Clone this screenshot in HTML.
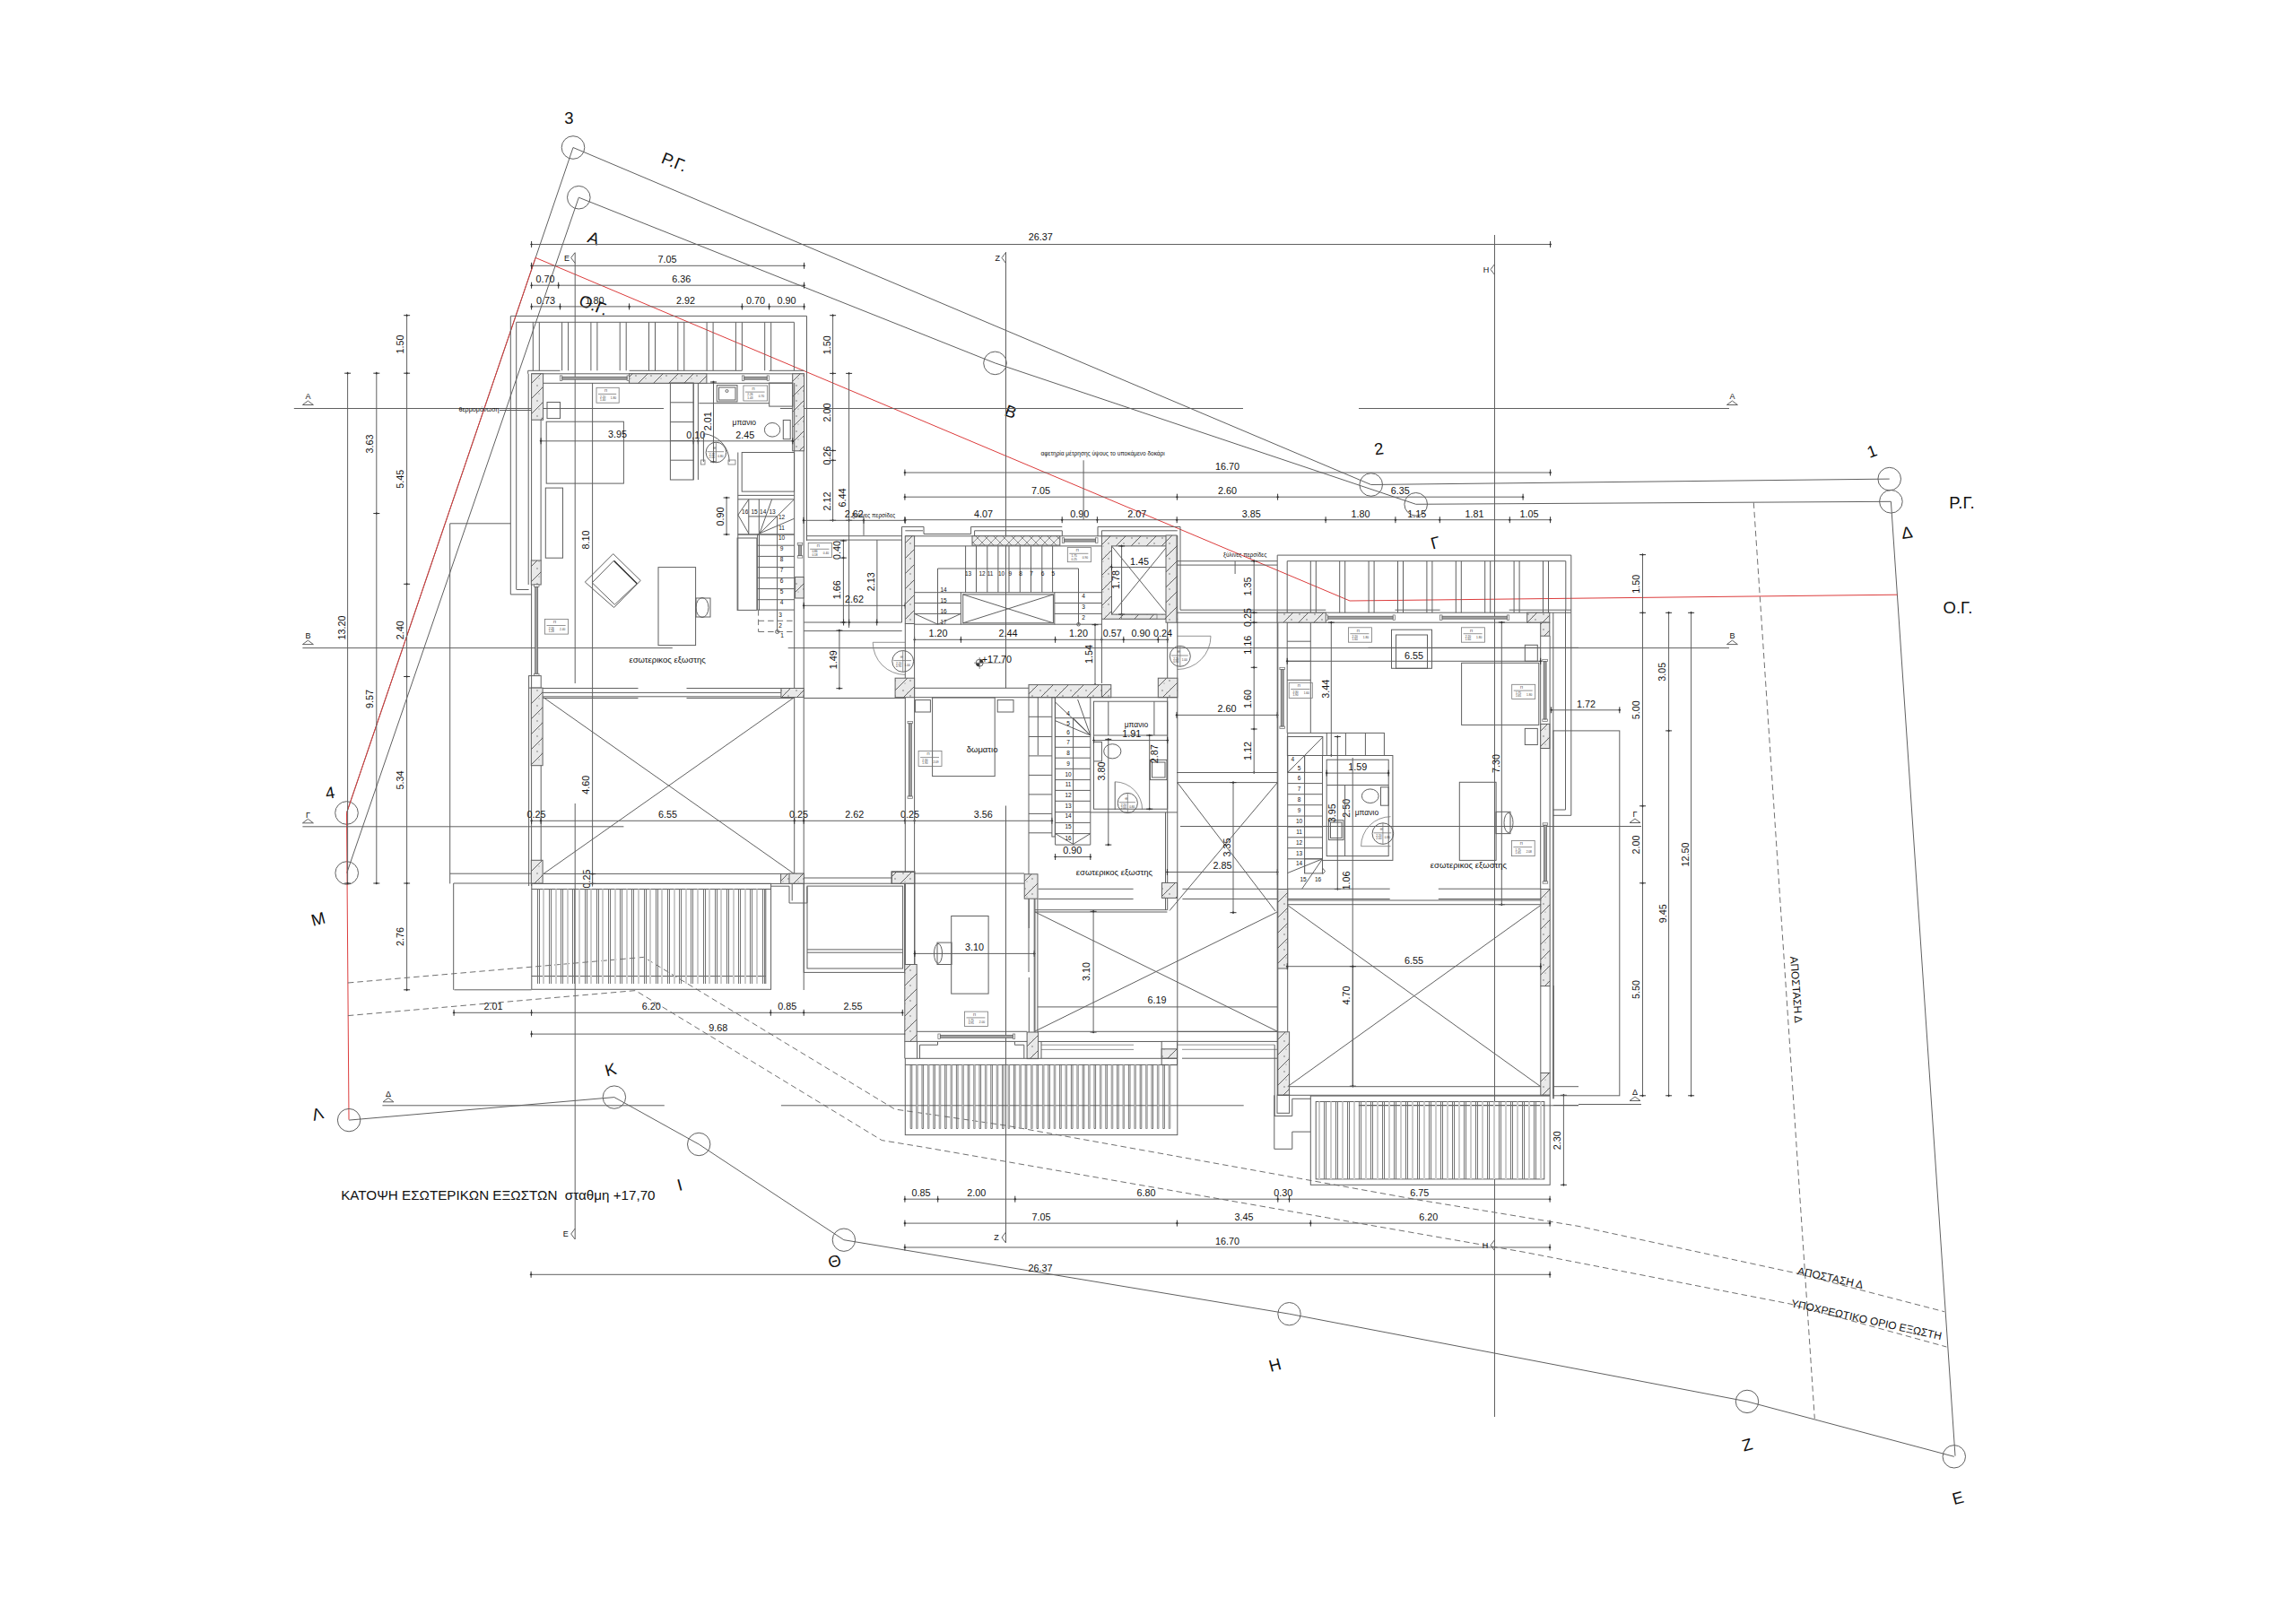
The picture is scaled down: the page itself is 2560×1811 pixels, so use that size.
<!DOCTYPE html>
<html><head><meta charset="utf-8"><style>
html,body{margin:0;padding:0;background:#fff;overflow:hidden;}
svg{display:block;}
line,polyline,polygon,rect,circle,ellipse,path{stroke:#606060;stroke-width:1;fill:none;}
.tk{stroke:#333;stroke-width:1;}
.tkf{fill:#333;stroke:none;}
.red{stroke:#dc3c3c;}
.dash{stroke-dasharray:6.5 4;stroke:#707070;}
.hw{fill:url(#hp);}
.xw{fill:url(#xp);}
.thin{stroke:#777;stroke-width:0.8;}
.grill{fill:none;}
.wc{stroke:#666;stroke-width:0.7;fill:#fff;}
.wb{stroke:#555;stroke-width:0.7;fill:#a0a0a0;}
.ts{fill:#333;}
.gb{stroke:#cdcdcd;stroke-width:2;}
.gl{stroke:#747474;stroke-width:1;}
.sl{stroke:#555;stroke-width:0.8;fill:none;}
.sl2{stroke:#888;stroke-width:0.8;fill:#cfcfcf;}
.thick{stroke:#333;stroke-width:1.4;}
.fillw{fill:#fff;}
text{font-family:"Liberation Sans",sans-serif;fill:#111;stroke:none;}
</style></head><body>
<svg width="2560" height="1811" viewBox="0 0 2560 1811">
<defs>
<pattern id="hp" patternUnits="userSpaceOnUse" width="17" height="17">
<rect width="17" height="17" style="fill:#e9e9e9;stroke:none"/>
<path d="M-1,18 L18,-1" style="stroke:#555;stroke-width:0.9;fill:none"/>
<circle cx="4" cy="5" r="0.65" style="fill:#555;stroke:none"/><circle cx="12" cy="11" r="0.65" style="fill:#555;stroke:none"/><circle cx="6" cy="14" r="0.55" style="fill:#777;stroke:none"/><circle cx="13" cy="3" r="0.5" style="fill:#888;stroke:none"/><circle cx="9" cy="7" r="0.5" style="fill:#888;stroke:none"/>
</pattern>
<pattern id="xp" patternUnits="userSpaceOnUse" width="10" height="10">
<rect width="10" height="10" style="fill:#eee;stroke:none"/>
<path d="M0,10 L10,0 M0,0 L10,10" style="stroke:#666;stroke-width:0.7;fill:none"/>
</pattern>


</defs>
<circle cx="639" cy="164.5" r="12.8"/>
<circle cx="645.3" cy="220.2" r="12.8"/>
<circle cx="1109.5" cy="404.9" r="12.8"/>
<circle cx="1528.7" cy="540.5" r="12.8"/>
<circle cx="1578.7" cy="562.3" r="12.8"/>
<circle cx="2106.7" cy="534.1" r="12.8"/>
<circle cx="2108.4" cy="559.3" r="12.8"/>
<circle cx="386.5" cy="906.5" r="12.8"/>
<circle cx="386.7" cy="973.5" r="12.8"/>
<line x1="639" y1="164.5" x2="1528.7" y2="540.5"/>
<line x1="645.3" y1="220.2" x2="1109.5" y2="404.9"/>
<line x1="1109.5" y1="404.9" x2="1578.7" y2="562.3"/>
<line x1="1528.7" y1="540.5" x2="2106.7" y2="534.1"/>
<line x1="1578.7" y1="562.3" x2="2108.4" y2="559.3"/>
<line x1="639" y1="164.5" x2="386.5" y2="906.5"/>
<line x1="645.3" y1="220.2" x2="386.7" y2="973.5"/>
<line x1="2108.4" y1="559.3" x2="2180" y2="1623.6"/>
<path d="M597.1,287.4 L1505,670 L2115.4,663.2" class="red"/>
<path d="M597.1,287.4 L386.5,906.5 L389,1248.7" class="red"/>
<text x="634.5" y="137.6" font-size="18.5" text-anchor="middle" class="t">3</text>
<text x="752" y="187.1" font-size="18.5" text-anchor="middle" transform="rotate(22 752 180.5)" class="t">Ρ.Γ.</text>
<text x="2087" y="509.6" font-size="18.5" text-anchor="middle" transform="rotate(-20 2087 503)" class="t">1</text>
<text x="1537.4" y="506.8" font-size="18.5" text-anchor="middle" transform="rotate(-8 1537.4 500.2)" class="t">2</text>
<text x="2187.5" y="566.6" font-size="18.5" text-anchor="middle" class="t">Ρ.Γ.</text>
<text x="2183" y="684" font-size="18.5" text-anchor="middle" class="t">Ο.Γ.</text>
<text x="2126.3" y="600.1" font-size="18.5" text-anchor="middle" transform="rotate(-8 2126.3 593.5)" class="t">Δ</text>
<text x="367.9" y="890.5" font-size="18.5" text-anchor="middle" transform="rotate(-10 367.9 883.9)" class="t">4</text>
<text x="354.8" y="1031.2" font-size="18.5" text-anchor="middle" transform="rotate(-15 354.8 1024.6)" class="t">Μ</text>
<text x="1127" y="465.5" font-size="18.5" text-anchor="middle" transform="rotate(20 1127 458.9)" class="t">Β</text>
<text x="662" y="272.1" font-size="18.5" text-anchor="middle" transform="rotate(20 662 265.5)" class="t">Α</text>
<text x="662" y="346.6" font-size="18.5" text-anchor="middle" transform="rotate(22 662 340)" class="t">Ο.Γ.</text>
<line x1="1955.3" y1="560.4" x2="2023.3" y2="1581.9" class="dash"/>
<line x1="641.2" y1="282" x2="641.2" y2="762"/>
<line x1="641.2" y1="896" x2="641.2" y2="1382"/>
<line x1="1121.5" y1="281" x2="1121.5" y2="767.3"/>
<line x1="1121.5" y1="898.5" x2="1121.5" y2="1386"/>
<line x1="1666.5" y1="262" x2="1666.5" y2="1580"/>
<text x="632" y="290.7" font-size="9" text-anchor="middle" class="t">Ε</text>
<text x="1112.3" y="290.7" font-size="9" text-anchor="middle" class="t">Ζ</text>
<text x="1657" y="303.7" font-size="9" text-anchor="middle" class="t">Η</text>
<polyline points="641.2,281.5 636.7,287.5 641.2,293.5"/>
<polyline points="1121.5,281.5 1117,287.5 1121.5,293.5"/>
<polyline points="1666.5,294.5 1662,300.5 1666.5,306.5"/>
<line x1="327.8" y1="455.5" x2="740" y2="455.5"/>
<line x1="869.9" y1="455.5" x2="1386" y2="455.5"/>
<line x1="1515" y1="455.5" x2="1928" y2="455.5"/>
<line x1="337.4" y1="722.6" x2="749.8" y2="722.6"/>
<line x1="878.7" y1="722.6" x2="1928" y2="722.6"/>
<line x1="337.4" y1="921.8" x2="695.4" y2="921.8"/>
<polygon points="337.4,451.5 343.4,447 349.4,451.5"/>
<text x="343.4" y="445.2" font-size="9" text-anchor="middle" class="t">Α</text>
<polygon points="1925.4,451.5 1931.4,447 1937.4,451.5"/>
<text x="1931.4" y="445.2" font-size="9" text-anchor="middle" class="t">Α</text>
<polygon points="337.4,718.6 343.4,714.1 349.4,718.6"/>
<text x="343.4" y="712.3" font-size="9" text-anchor="middle" class="t">Β</text>
<polygon points="1925.4,718.6 1931.4,714.1 1937.4,718.6"/>
<text x="1931.4" y="712.3" font-size="9" text-anchor="middle" class="t">Β</text>
<polygon points="337.4,917.8 343.4,913.3 349.4,917.8"/>
<text x="343.4" y="911.5" font-size="9" text-anchor="middle" class="t">Γ</text>
<line x1="592.6" y1="272.5" x2="1728.6" y2="272.5"/>
<line x1="592.6" y1="269" x2="592.6" y2="276" class="tk"/>
<path d="M591,272.5 L592.6,271.2 L594.2,272.5 L592.6,273.8Z" class="tkf"/>
<line x1="1728.6" y1="269" x2="1728.6" y2="276" class="tk"/>
<path d="M1727,272.5 L1728.6,271.2 L1730.2,272.5 L1728.6,273.8Z" class="tkf"/>
<text x="1160.2" y="267.9" font-size="10.8" text-anchor="middle" class="t">26.37</text>
<line x1="592.6" y1="296.3" x2="896.6" y2="296.3"/>
<line x1="592.6" y1="292.8" x2="592.6" y2="299.8" class="tk"/>
<path d="M591,296.3 L592.6,295 L594.2,296.3 L592.6,297.6Z" class="tkf"/>
<line x1="896.6" y1="292.8" x2="896.6" y2="299.8" class="tk"/>
<path d="M895,296.3 L896.6,295 L898.2,296.3 L896.6,297.6Z" class="tkf"/>
<text x="744" y="292.9" font-size="10.8" text-anchor="middle" class="t">7.05</text>
<line x1="592.6" y1="318.2" x2="896.6" y2="318.2"/>
<line x1="592.6" y1="314.7" x2="592.6" y2="321.7" class="tk"/>
<path d="M591,318.2 L592.6,316.9 L594.2,318.2 L592.6,319.5Z" class="tkf"/>
<line x1="622.7" y1="314.7" x2="622.7" y2="321.7" class="tk"/>
<path d="M621.1,318.2 L622.7,316.9 L624.3,318.2 L622.7,319.5Z" class="tkf"/>
<line x1="896.6" y1="314.7" x2="896.6" y2="321.7" class="tk"/>
<path d="M895,318.2 L896.6,316.9 L898.2,318.2 L896.6,319.5Z" class="tkf"/>
<text x="608" y="314.9" font-size="10.8" text-anchor="middle" class="t">0.70</text>
<text x="759.7" y="314.9" font-size="10.8" text-anchor="middle" class="t">6.36</text>
<line x1="592.6" y1="341.9" x2="896.6" y2="341.9"/>
<line x1="592.6" y1="338.4" x2="592.6" y2="345.4" class="tk"/>
<path d="M591,341.9 L592.6,340.6 L594.2,341.9 L592.6,343.2Z" class="tkf"/>
<line x1="624.5" y1="338.4" x2="624.5" y2="345.4" class="tk"/>
<path d="M622.9,341.9 L624.5,340.6 L626.1,341.9 L624.5,343.2Z" class="tkf"/>
<line x1="701.6" y1="338.4" x2="701.6" y2="345.4" class="tk"/>
<path d="M700,341.9 L701.6,340.6 L703.2,341.9 L701.6,343.2Z" class="tkf"/>
<line x1="827.4" y1="338.4" x2="827.4" y2="345.4" class="tk"/>
<path d="M825.8,341.9 L827.4,340.6 L829,341.9 L827.4,343.2Z" class="tkf"/>
<line x1="857.6" y1="338.4" x2="857.6" y2="345.4" class="tk"/>
<path d="M856,341.9 L857.6,340.6 L859.2,341.9 L857.6,343.2Z" class="tkf"/>
<line x1="896.6" y1="338.4" x2="896.6" y2="345.4" class="tk"/>
<path d="M895,341.9 L896.6,340.6 L898.2,341.9 L896.6,343.2Z" class="tkf"/>
<text x="608.5" y="338.9" font-size="10.8" text-anchor="middle" class="t">0.73</text>
<text x="663" y="338.9" font-size="10.8" text-anchor="middle" class="t">1.80</text>
<text x="764.5" y="338.9" font-size="10.8" text-anchor="middle" class="t">2.92</text>
<text x="842.5" y="338.9" font-size="10.8" text-anchor="middle" class="t">0.70</text>
<text x="877" y="338.9" font-size="10.8" text-anchor="middle" class="t">0.90</text>
<line x1="1008.9" y1="527" x2="1728.6" y2="527"/>
<line x1="1008.9" y1="523.5" x2="1008.9" y2="530.5" class="tk"/>
<path d="M1007.3,527 L1008.9,525.7 L1010.5,527 L1008.9,528.3Z" class="tkf"/>
<line x1="1728.6" y1="523.5" x2="1728.6" y2="530.5" class="tk"/>
<path d="M1727,527 L1728.6,525.7 L1730.2,527 L1728.6,528.3Z" class="tkf"/>
<text x="1368.6" y="523.9" font-size="10.8" text-anchor="middle" class="t">16.70</text>
<line x1="1008.9" y1="554.2" x2="1698.1" y2="554.2"/>
<line x1="1008.9" y1="550.7" x2="1008.9" y2="557.7" class="tk"/>
<path d="M1007.3,554.2 L1008.9,552.9 L1010.5,554.2 L1008.9,555.5Z" class="tkf"/>
<line x1="1312.4" y1="550.7" x2="1312.4" y2="557.7" class="tk"/>
<path d="M1310.8,554.2 L1312.4,552.9 L1314,554.2 L1312.4,555.5Z" class="tkf"/>
<line x1="1424.6" y1="550.7" x2="1424.6" y2="557.7" class="tk"/>
<path d="M1423,554.2 L1424.6,552.9 L1426.2,554.2 L1424.6,555.5Z" class="tkf"/>
<line x1="1698.1" y1="550.7" x2="1698.1" y2="557.7" class="tk"/>
<path d="M1696.5,554.2 L1698.1,552.9 L1699.7,554.2 L1698.1,555.5Z" class="tkf"/>
<text x="1160.5" y="550.9" font-size="10.8" text-anchor="middle" class="t">7.05</text>
<text x="1368.6" y="550.9" font-size="10.8" text-anchor="middle" class="t">2.60</text>
<text x="1561.3" y="550.9" font-size="10.8" text-anchor="middle" class="t">6.35</text>
<line x1="1008.9" y1="579.7" x2="1728.6" y2="579.7"/>
<line x1="1008.9" y1="576.2" x2="1008.9" y2="583.2" class="tk"/>
<path d="M1007.3,579.7 L1008.9,578.4 L1010.5,579.7 L1008.9,581Z" class="tkf"/>
<line x1="1184.2" y1="576.2" x2="1184.2" y2="583.2" class="tk"/>
<path d="M1182.6,579.7 L1184.2,578.4 L1185.8,579.7 L1184.2,581Z" class="tkf"/>
<line x1="1223.4" y1="576.2" x2="1223.4" y2="583.2" class="tk"/>
<path d="M1221.8,579.7 L1223.4,578.4 L1225,579.7 L1223.4,581Z" class="tkf"/>
<line x1="1312.2" y1="576.2" x2="1312.2" y2="583.2" class="tk"/>
<path d="M1310.6,579.7 L1312.2,578.4 L1313.8,579.7 L1312.2,581Z" class="tkf"/>
<line x1="1478.1" y1="576.2" x2="1478.1" y2="583.2" class="tk"/>
<path d="M1476.5,579.7 L1478.1,578.4 L1479.7,579.7 L1478.1,581Z" class="tkf"/>
<line x1="1555.9" y1="576.2" x2="1555.9" y2="583.2" class="tk"/>
<path d="M1554.3,579.7 L1555.9,578.4 L1557.5,579.7 L1555.9,581Z" class="tkf"/>
<line x1="1605.3" y1="576.2" x2="1605.3" y2="583.2" class="tk"/>
<path d="M1603.7,579.7 L1605.3,578.4 L1606.9,579.7 L1605.3,581Z" class="tkf"/>
<line x1="1683.3" y1="576.2" x2="1683.3" y2="583.2" class="tk"/>
<path d="M1681.7,579.7 L1683.3,578.4 L1684.9,579.7 L1683.3,581Z" class="tkf"/>
<line x1="1728.6" y1="576.2" x2="1728.6" y2="583.2" class="tk"/>
<path d="M1727,579.7 L1728.6,578.4 L1730.2,579.7 L1728.6,581Z" class="tkf"/>
<text x="1096.5" y="576.9" font-size="10.8" text-anchor="middle" class="t">4.07</text>
<text x="1203.8" y="576.9" font-size="10.8" text-anchor="middle" class="t">0.90</text>
<text x="1267.8" y="576.9" font-size="10.8" text-anchor="middle" class="t">2.07</text>
<text x="1395.2" y="576.9" font-size="10.8" text-anchor="middle" class="t">3.85</text>
<text x="1517.1" y="576.9" font-size="10.8" text-anchor="middle" class="t">1.80</text>
<text x="1579.8" y="576.9" font-size="10.8" text-anchor="middle" class="t">1.15</text>
<text x="1644.1" y="576.9" font-size="10.8" text-anchor="middle" class="t">1.81</text>
<text x="1705.1" y="576.9" font-size="10.8" text-anchor="middle" class="t">1.05</text>
<line x1="1208.1" y1="513.3" x2="1208.1" y2="580"/>
<text x="1229.7" y="508" font-size="6.5" text-anchor="middle" class="t">αφετηρία μέτρησης ύψους το υποκάμενο δοκάρι</text>
<line x1="387.6" y1="416.2" x2="387.6" y2="985"/>
<line x1="384.1" y1="416.2" x2="391.1" y2="416.2" class="tk"/>
<path d="M387.6,414.6 L386.3,416.2 L387.6,417.8 L388.9,416.2Z" class="tkf"/>
<line x1="384.1" y1="985" x2="391.1" y2="985" class="tk"/>
<path d="M387.6,983.4 L386.3,985 L387.6,986.6 L388.9,985Z" class="tkf"/>
<text x="381" y="704" font-size="10.8" text-anchor="middle" transform="rotate(-90 381 700.1)" class="t">13.20</text>
<line x1="419.8" y1="416.2" x2="419.8" y2="985"/>
<line x1="416.3" y1="416.2" x2="423.3" y2="416.2" class="tk"/>
<path d="M419.8,414.6 L418.5,416.2 L419.8,417.8 L421.1,416.2Z" class="tkf"/>
<line x1="416.3" y1="572.5" x2="423.3" y2="572.5" class="tk"/>
<path d="M419.8,570.9 L418.5,572.5 L419.8,574.1 L421.1,572.5Z" class="tkf"/>
<line x1="416.3" y1="985" x2="423.3" y2="985" class="tk"/>
<path d="M419.8,983.4 L418.5,985 L419.8,986.6 L421.1,985Z" class="tkf"/>
<text x="412.3" y="498.9" font-size="10.8" text-anchor="middle" transform="rotate(-90 412.3 495)" class="t">3.63</text>
<text x="412.3" y="783.3" font-size="10.8" text-anchor="middle" transform="rotate(-90 412.3 779.4)" class="t">9.57</text>
<line x1="453.6" y1="351.7" x2="453.6" y2="1103.8"/>
<line x1="450.1" y1="351.7" x2="457.1" y2="351.7" class="tk"/>
<path d="M453.6,350.1 L452.3,351.7 L453.6,353.3 L454.9,351.7Z" class="tkf"/>
<line x1="450.1" y1="416.2" x2="457.1" y2="416.2" class="tk"/>
<path d="M453.6,414.6 L452.3,416.2 L453.6,417.8 L454.9,416.2Z" class="tkf"/>
<line x1="450.1" y1="651.3" x2="457.1" y2="651.3" class="tk"/>
<path d="M453.6,649.7 L452.3,651.3 L453.6,652.9 L454.9,651.3Z" class="tkf"/>
<line x1="450.1" y1="754.5" x2="457.1" y2="754.5" class="tk"/>
<path d="M453.6,752.9 L452.3,754.5 L453.6,756.1 L454.9,754.5Z" class="tkf"/>
<line x1="450.1" y1="985" x2="457.1" y2="985" class="tk"/>
<path d="M453.6,983.4 L452.3,985 L453.6,986.6 L454.9,985Z" class="tkf"/>
<line x1="450.1" y1="1103.8" x2="457.1" y2="1103.8" class="tk"/>
<path d="M453.6,1102.2 L452.3,1103.8 L453.6,1105.4 L454.9,1103.8Z" class="tkf"/>
<text x="446.3" y="387.9" font-size="10.8" text-anchor="middle" transform="rotate(-90 446.3 384)" class="t">1.50</text>
<text x="446.3" y="538.1" font-size="10.8" text-anchor="middle" transform="rotate(-90 446.3 534.2)" class="t">5.45</text>
<text x="446.3" y="706.6" font-size="10.8" text-anchor="middle" transform="rotate(-90 446.3 702.7)" class="t">2.40</text>
<text x="446.3" y="873.9" font-size="10.8" text-anchor="middle" transform="rotate(-90 446.3 870)" class="t">5.34</text>
<text x="446.3" y="1048.5" font-size="10.8" text-anchor="middle" transform="rotate(-90 446.3 1044.6)" class="t">2.76</text>
<text x="534" y="459.3" font-size="7.2" text-anchor="middle" class="t">θερμομόνωση</text>
<line x1="557" y1="457.5" x2="592.6" y2="457.5"/>
<line x1="928.6" y1="351.7" x2="928.6" y2="580.3"/>
<line x1="925.1" y1="351.7" x2="932.1" y2="351.7" class="tk"/>
<path d="M928.6,350.1 L927.3,351.7 L928.6,353.3 L929.9,351.7Z" class="tkf"/>
<line x1="925.1" y1="416.4" x2="932.1" y2="416.4" class="tk"/>
<path d="M928.6,414.8 L927.3,416.4 L928.6,418 L929.9,416.4Z" class="tkf"/>
<line x1="925.1" y1="502.4" x2="932.1" y2="502.4" class="tk"/>
<path d="M928.6,500.8 L927.3,502.4 L928.6,504 L929.9,502.4Z" class="tkf"/>
<line x1="925.1" y1="513.3" x2="932.1" y2="513.3" class="tk"/>
<path d="M928.6,511.7 L927.3,513.3 L928.6,514.9 L929.9,513.3Z" class="tkf"/>
<line x1="925.1" y1="580.3" x2="932.1" y2="580.3" class="tk"/>
<path d="M928.6,578.7 L927.3,580.3 L928.6,581.9 L929.9,580.3Z" class="tkf"/>
<text x="921.8" y="388.7" font-size="10.8" text-anchor="middle" transform="rotate(-90 921.8 384.8)" class="t">1.50</text>
<text x="921.8" y="463.9" font-size="10.8" text-anchor="middle" transform="rotate(-90 921.8 460)" class="t">2.00</text>
<text x="921.8" y="511.9" font-size="10.8" text-anchor="middle" transform="rotate(-90 921.8 508)" class="t">0.26</text>
<text x="921.8" y="562.9" font-size="10.8" text-anchor="middle" transform="rotate(-90 921.8 559)" class="t">2.12</text>
<line x1="946.6" y1="416.4" x2="946.6" y2="700"/>
<line x1="943.1" y1="416.4" x2="950.1" y2="416.4" class="tk"/>
<path d="M946.6,414.8 L945.3,416.4 L946.6,418 L947.9,416.4Z" class="tkf"/>
<line x1="943.1" y1="580.3" x2="950.1" y2="580.3" class="tk"/>
<path d="M946.6,578.7 L945.3,580.3 L946.6,581.9 L947.9,580.3Z" class="tkf"/>
<text x="939.4" y="558.9" font-size="10.8" text-anchor="middle" transform="rotate(-90 939.4 555)" class="t">6.44</text>
<circle cx="389.1" cy="1249.1" r="12.7"/>
<circle cx="684.9" cy="1223.6" r="12.7"/>
<circle cx="779.2" cy="1276" r="12.7"/>
<circle cx="940.9" cy="1382.7" r="12.7"/>
<circle cx="1437.5" cy="1465.2" r="12.7"/>
<circle cx="1948" cy="1562.9" r="12.7"/>
<circle cx="2178.8" cy="1624.3" r="12.7"/>
<polyline points="389.1,1249.1 684.9,1223.6 779.2,1276 940.9,1382.7 1437.5,1465.2 1948,1562.9 2178.8,1624.3"/>
<text x="354" y="1248.6" font-size="18.5" text-anchor="middle" transform="rotate(-15 354 1242)" class="t">Λ</text>
<text x="680.7" y="1199.1" font-size="18.5" text-anchor="middle" transform="rotate(-15 680.7 1192.5)" class="t">Κ</text>
<text x="757.7" y="1327.9" font-size="18.5" text-anchor="middle" transform="rotate(-15 757.7 1321.3)" class="t">Ι</text>
<text x="930.4" y="1412.8" font-size="18.5" text-anchor="middle" transform="rotate(-15 930.4 1406.2)" class="t">Θ</text>
<text x="1421.4" y="1528.4" font-size="18.5" text-anchor="middle" transform="rotate(-15 1421.4 1521.8)" class="t">Η</text>
<text x="1948" y="1617.6" font-size="18.5" text-anchor="middle" transform="rotate(-15 1948 1611)" class="t">Ζ</text>
<text x="2183" y="1677" font-size="18.5" text-anchor="middle" transform="rotate(-15 2183 1670.4)" class="t">Ε</text>
<text x="555.4" y="1338" font-size="15.2" text-anchor="middle" class="t">ΚΑΤΟΨΗ ΕΣΩΤΕΡΙΚΩΝ ΕΞΩΣΤΩΝ&#160;&#160;σταθμη +17,70</text>
<polyline points="387.9,1096 717.7,1067.4 997.8,1237 1030,1241.6 1121,1255 1580,1337.8 1760,1367.4 2000.5,1419.3 2168.2,1462.8" class="dash"/>
<polyline points="387.9,1132.6 708.5,1104.6 983.2,1271.6 1030,1279.3 1700,1396.4 1996.2,1454.1 2170.4,1502" class="dash"/>
<text x="2040.8" y="1429" font-size="12" text-anchor="middle" transform="rotate(12.4 2040.8 1424.7)" class="t">ΑΠΟΣΤΑΣΗ Δ</text>
<text x="2081.1" y="1475.8" font-size="12" text-anchor="middle" transform="rotate(12.4 2081.1 1471.5)" class="t">ΥΠΟΧΡΕΩΤΙΚΟ ΟΡΙΟ ΕΞΩΣΤΗ</text>
<text x="2003" y="1107.9" font-size="12" text-anchor="middle" transform="rotate(86 2003 1103.6)" class="t">ΑΠΟΣΤΑΣΗ Δ</text>
<line x1="426.4" y1="1232.8" x2="740.8" y2="1232.8"/>
<line x1="870.9" y1="1232.8" x2="1386.7" y2="1232.8"/>
<line x1="1514.7" y1="1232.8" x2="1760" y2="1232.8"/>
<polygon points="427,1228.8 433,1224.3 439,1228.8"/>
<text x="433" y="1222.5" font-size="9" text-anchor="middle" class="t">Δ</text>
<polygon points="1817,1227.5 1823,1223 1829,1227.5"/>
<text x="1823" y="1221.2" font-size="9" text-anchor="middle" class="t">Δ</text>
<line x1="1760" y1="1231.5" x2="1830" y2="1231.5"/>
<line x1="1316" y1="921.5" x2="1830" y2="921.5"/>
<polygon points="1817,917.5 1823,913 1829,917.5"/>
<text x="1823" y="911.2" font-size="9" text-anchor="middle" class="t">Γ</text>
<line x1="506.1" y1="1129.3" x2="1006.3" y2="1129.3"/>
<line x1="506.1" y1="1125.8" x2="506.1" y2="1132.8" class="tk"/>
<path d="M504.5,1129.3 L506.1,1128 L507.7,1129.3 L506.1,1130.6Z" class="tkf"/>
<line x1="592.6" y1="1125.8" x2="592.6" y2="1132.8" class="tk"/>
<path d="M591,1129.3 L592.6,1128 L594.2,1129.3 L592.6,1130.6Z" class="tkf"/>
<line x1="859.3" y1="1125.8" x2="859.3" y2="1132.8" class="tk"/>
<path d="M857.7,1129.3 L859.3,1128 L860.9,1129.3 L859.3,1130.6Z" class="tkf"/>
<line x1="896.2" y1="1125.8" x2="896.2" y2="1132.8" class="tk"/>
<path d="M894.6,1129.3 L896.2,1128 L897.8,1129.3 L896.2,1130.6Z" class="tkf"/>
<line x1="1006.3" y1="1125.8" x2="1006.3" y2="1132.8" class="tk"/>
<path d="M1004.7,1129.3 L1006.3,1128 L1007.9,1129.3 L1006.3,1130.6Z" class="tkf"/>
<text x="550" y="1126.1" font-size="10.8" text-anchor="middle" class="t">2.01</text>
<text x="726.2" y="1126.1" font-size="10.8" text-anchor="middle" class="t">6.20</text>
<text x="877.8" y="1126.1" font-size="10.8" text-anchor="middle" class="t">0.85</text>
<text x="950.9" y="1126.1" font-size="10.8" text-anchor="middle" class="t">2.55</text>
<line x1="592.6" y1="1153.1" x2="1009.4" y2="1153.1"/>
<line x1="592.6" y1="1149.6" x2="592.6" y2="1156.6" class="tk"/>
<path d="M591,1153.1 L592.6,1151.8 L594.2,1153.1 L592.6,1154.4Z" class="tkf"/>
<line x1="1009.4" y1="1149.6" x2="1009.4" y2="1156.6" class="tk"/>
<path d="M1007.8,1153.1 L1009.4,1151.8 L1011,1153.1 L1009.4,1154.4Z" class="tkf"/>
<text x="800.8" y="1149.8" font-size="10.8" text-anchor="middle" class="t">9.68</text>
<line x1="1008.9" y1="1337.2" x2="1728.1" y2="1337.2"/>
<line x1="1008.9" y1="1333.7" x2="1008.9" y2="1340.7" class="tk"/>
<path d="M1007.3,1337.2 L1008.9,1335.9 L1010.5,1337.2 L1008.9,1338.5Z" class="tkf"/>
<line x1="1045.7" y1="1333.7" x2="1045.7" y2="1340.7" class="tk"/>
<path d="M1044.1,1337.2 L1045.7,1335.9 L1047.3,1337.2 L1045.7,1338.5Z" class="tkf"/>
<line x1="1131.8" y1="1333.7" x2="1131.8" y2="1340.7" class="tk"/>
<path d="M1130.2,1337.2 L1131.8,1335.9 L1133.4,1337.2 L1131.8,1338.5Z" class="tkf"/>
<line x1="1424.8" y1="1333.7" x2="1424.8" y2="1340.7" class="tk"/>
<path d="M1423.2,1337.2 L1424.8,1335.9 L1426.4,1337.2 L1424.8,1338.5Z" class="tkf"/>
<line x1="1437.5" y1="1333.7" x2="1437.5" y2="1340.7" class="tk"/>
<path d="M1435.9,1337.2 L1437.5,1335.9 L1439.1,1337.2 L1437.5,1338.5Z" class="tkf"/>
<line x1="1728.1" y1="1333.7" x2="1728.1" y2="1340.7" class="tk"/>
<path d="M1726.5,1337.2 L1728.1,1335.9 L1729.7,1337.2 L1728.1,1338.5Z" class="tkf"/>
<text x="1027" y="1334" font-size="10.8" text-anchor="middle" class="t">0.85</text>
<text x="1088.7" y="1334" font-size="10.8" text-anchor="middle" class="t">2.00</text>
<text x="1277.9" y="1334" font-size="10.8" text-anchor="middle" class="t">6.80</text>
<text x="1430.7" y="1334" font-size="10.8" text-anchor="middle" class="t">0.30</text>
<text x="1582.8" y="1334" font-size="10.8" text-anchor="middle" class="t">6.75</text>
<line x1="1008.9" y1="1364.1" x2="1728.1" y2="1364.1"/>
<line x1="1008.9" y1="1360.6" x2="1008.9" y2="1367.6" class="tk"/>
<path d="M1007.3,1364.1 L1008.9,1362.8 L1010.5,1364.1 L1008.9,1365.4Z" class="tkf"/>
<line x1="1312.4" y1="1360.6" x2="1312.4" y2="1367.6" class="tk"/>
<path d="M1310.8,1364.1 L1312.4,1362.8 L1314,1364.1 L1312.4,1365.4Z" class="tkf"/>
<line x1="1461.3" y1="1360.6" x2="1461.3" y2="1367.6" class="tk"/>
<path d="M1459.7,1364.1 L1461.3,1362.8 L1462.9,1364.1 L1461.3,1365.4Z" class="tkf"/>
<line x1="1728.1" y1="1360.6" x2="1728.1" y2="1367.6" class="tk"/>
<path d="M1726.5,1364.1 L1728.1,1362.8 L1729.7,1364.1 L1728.1,1365.4Z" class="tkf"/>
<text x="1160.9" y="1360.9" font-size="10.8" text-anchor="middle" class="t">7.05</text>
<text x="1386.9" y="1360.9" font-size="10.8" text-anchor="middle" class="t">3.45</text>
<text x="1592.7" y="1360.9" font-size="10.8" text-anchor="middle" class="t">6.20</text>
<line x1="1008.9" y1="1391" x2="1728.1" y2="1391"/>
<line x1="1008.9" y1="1387.5" x2="1008.9" y2="1394.5" class="tk"/>
<path d="M1007.3,1391 L1008.9,1389.7 L1010.5,1391 L1008.9,1392.3Z" class="tkf"/>
<line x1="1728.1" y1="1387.5" x2="1728.1" y2="1394.5" class="tk"/>
<path d="M1726.5,1391 L1728.1,1389.7 L1729.7,1391 L1728.1,1392.3Z" class="tkf"/>
<text x="1368.5" y="1387.8" font-size="10.8" text-anchor="middle" class="t">16.70</text>
<line x1="592.1" y1="1421.3" x2="1728.1" y2="1421.3"/>
<line x1="592.1" y1="1417.8" x2="592.1" y2="1424.8" class="tk"/>
<path d="M590.5,1421.3 L592.1,1420 L593.7,1421.3 L592.1,1422.6Z" class="tkf"/>
<line x1="1728.1" y1="1417.8" x2="1728.1" y2="1424.8" class="tk"/>
<path d="M1726.5,1421.3 L1728.1,1420 L1729.7,1421.3 L1728.1,1422.6Z" class="tkf"/>
<text x="1160.1" y="1418.1" font-size="10.8" text-anchor="middle" class="t">26.37</text>
<polyline points="641.2,1370 636.7,1376 641.2,1382"/>
<text x="630.7" y="1379.2" font-size="9" text-anchor="middle" class="t">Ε</text>
<polyline points="1121.5,1374 1117,1380 1121.5,1386"/>
<text x="1111" y="1383.2" font-size="9" text-anchor="middle" class="t">Ζ</text>
<polyline points="1666.5,1382.7 1662,1388.7 1666.5,1394.7"/>
<text x="1656" y="1391.9" font-size="9" text-anchor="middle" class="t">Η</text>
<line x1="1831.5" y1="618.6" x2="1831.5" y2="1221.8"/>
<line x1="1828" y1="618.6" x2="1835" y2="618.6" class="tk"/>
<path d="M1831.5,617 L1830.2,618.6 L1831.5,620.2 L1832.8,618.6Z" class="tkf"/>
<line x1="1828" y1="683.3" x2="1835" y2="683.3" class="tk"/>
<path d="M1831.5,681.7 L1830.2,683.3 L1831.5,684.9 L1832.8,683.3Z" class="tkf"/>
<line x1="1828" y1="898.8" x2="1835" y2="898.8" class="tk"/>
<path d="M1831.5,897.2 L1830.2,898.8 L1831.5,900.4 L1832.8,898.8Z" class="tkf"/>
<line x1="1828" y1="984.8" x2="1835" y2="984.8" class="tk"/>
<path d="M1831.5,983.2 L1830.2,984.8 L1831.5,986.4 L1832.8,984.8Z" class="tkf"/>
<line x1="1828" y1="1221.8" x2="1835" y2="1221.8" class="tk"/>
<path d="M1831.5,1220.2 L1830.2,1221.8 L1831.5,1223.4 L1832.8,1221.8Z" class="tkf"/>
<text x="1824.4" y="655.1" font-size="10.8" text-anchor="middle" transform="rotate(-90 1824.4 651.2)" class="t">1.50</text>
<text x="1824.1" y="795.7" font-size="10.8" text-anchor="middle" transform="rotate(-90 1824.1 791.8)" class="t">5.00</text>
<text x="1824.1" y="945.8" font-size="10.8" text-anchor="middle" transform="rotate(-90 1824.1 941.9)" class="t">2.00</text>
<text x="1824.1" y="1107.5" font-size="10.8" text-anchor="middle" transform="rotate(-90 1824.1 1103.6)" class="t">5.50</text>
<line x1="1860.6" y1="683.3" x2="1860.6" y2="1221.8"/>
<line x1="1857.1" y1="683.3" x2="1864.1" y2="683.3" class="tk"/>
<path d="M1860.6,681.7 L1859.3,683.3 L1860.6,684.9 L1861.9,683.3Z" class="tkf"/>
<line x1="1857.1" y1="814.9" x2="1864.1" y2="814.9" class="tk"/>
<path d="M1860.6,813.3 L1859.3,814.9 L1860.6,816.5 L1861.9,814.9Z" class="tkf"/>
<line x1="1857.1" y1="1221.8" x2="1864.1" y2="1221.8" class="tk"/>
<path d="M1860.6,1220.2 L1859.3,1221.8 L1860.6,1223.4 L1861.9,1221.8Z" class="tkf"/>
<text x="1853" y="753.1" font-size="10.8" text-anchor="middle" transform="rotate(-90 1853 749.2)" class="t">3.05</text>
<text x="1853.7" y="1022.7" font-size="10.8" text-anchor="middle" transform="rotate(-90 1853.7 1018.8)" class="t">9.45</text>
<line x1="1885.6" y1="683.3" x2="1885.6" y2="1221.8"/>
<line x1="1882.1" y1="683.3" x2="1889.1" y2="683.3" class="tk"/>
<path d="M1885.6,681.7 L1884.3,683.3 L1885.6,684.9 L1886.9,683.3Z" class="tkf"/>
<line x1="1882.1" y1="1221.8" x2="1889.1" y2="1221.8" class="tk"/>
<path d="M1885.6,1220.2 L1884.3,1221.8 L1885.6,1223.4 L1886.9,1221.8Z" class="tkf"/>
<text x="1878.8" y="956.8" font-size="10.8" text-anchor="middle" transform="rotate(-90 1878.8 952.9)" class="t">12.50</text>
<line x1="1743.4" y1="1221.3" x2="1743.4" y2="1321.3"/>
<line x1="1739.9" y1="1221.3" x2="1746.9" y2="1221.3" class="tk"/>
<path d="M1743.4,1219.7 L1742.1,1221.3 L1743.4,1222.9 L1744.7,1221.3Z" class="tkf"/>
<line x1="1739.9" y1="1321.3" x2="1746.9" y2="1321.3" class="tk"/>
<path d="M1743.4,1319.7 L1742.1,1321.3 L1743.4,1322.9 L1744.7,1321.3Z" class="tkf"/>
<text x="1736.2" y="1275.6" font-size="10.8" text-anchor="middle" transform="rotate(-90 1736.2 1271.7)" class="t">2.30</text>
<rect x="1731.9" y="814.9" width="73.9" height="406.9"/>
<polyline points="1751.8,683.2 1751.8,909.3 1731.6,909.3"/>
<polyline points="1745.5,680.2 1745.5,903 1731.6,903"/>
<line x1="1729.6" y1="791.8" x2="1805.8" y2="791.8"/>
<line x1="1729.6" y1="788.3" x2="1729.6" y2="795.3" class="tk"/>
<path d="M1728,791.8 L1729.6,790.5 L1731.2,791.8 L1729.6,793.1Z" class="tkf"/>
<line x1="1805.8" y1="788.3" x2="1805.8" y2="795.3" class="tk"/>
<path d="M1804.2,791.8 L1805.8,790.5 L1807.4,791.8 L1805.8,793.1Z" class="tkf"/>
<text x="1768.6" y="789.2" font-size="10.8" text-anchor="middle" class="t">1.72</text>
<polyline points="569.3,662.9 569.3,352.4 899.5,352.4 899.5,603"/>
<polyline points="575.7,657.5 575.7,359.3 885.4,359.3 885.4,413.3"/>
<line x1="594.3" y1="359.3" x2="594.3" y2="413.3"/>
<line x1="601.3" y1="359.3" x2="601.3" y2="413.3"/>
<line x1="626.6" y1="359.3" x2="626.6" y2="413.3"/>
<line x1="633.6" y1="359.3" x2="633.6" y2="413.3"/>
<line x1="658.9" y1="359.3" x2="658.9" y2="413.3"/>
<line x1="665.9" y1="359.3" x2="665.9" y2="413.3"/>
<line x1="691.2" y1="359.3" x2="691.2" y2="413.3"/>
<line x1="698.2" y1="359.3" x2="698.2" y2="413.3"/>
<line x1="723.5" y1="359.3" x2="723.5" y2="413.3"/>
<line x1="730.5" y1="359.3" x2="730.5" y2="413.3"/>
<line x1="755.8" y1="359.3" x2="755.8" y2="413.3"/>
<line x1="762.8" y1="359.3" x2="762.8" y2="413.3"/>
<line x1="788.1" y1="359.3" x2="788.1" y2="413.3"/>
<line x1="795.1" y1="359.3" x2="795.1" y2="413.3"/>
<line x1="820.4" y1="359.3" x2="820.4" y2="413.3"/>
<line x1="827.4" y1="359.3" x2="827.4" y2="413.3"/>
<line x1="852.7" y1="359.3" x2="852.7" y2="413.3"/>
<line x1="859.7" y1="359.3" x2="859.7" y2="413.3"/>
<line x1="588.7" y1="413.3" x2="624.5" y2="413.3"/>
<line x1="701.6" y1="413.3" x2="827.4" y2="413.3"/>
<line x1="857.6" y1="413.3" x2="896.6" y2="413.3"/>
<line x1="588.7" y1="413.3" x2="588.7" y2="416.8"/>
<line x1="592.6" y1="416.8" x2="896.6" y2="416.8"/>
<line x1="605.6" y1="427.3" x2="883.7" y2="427.3"/>
<rect x="592.6" y="416.8" width="13" height="51.4" class="hw"/>
<rect x="701.6" y="416.8" width="86.3" height="10.5" class="hw"/>
<rect x="883.7" y="416.8" width="12.9" height="86" class="hw"/>
<rect x="624.4" y="418.9" width="2.4" height="5.6" class="wc"/>
<rect x="699.1" y="418.9" width="2.4" height="5.6" class="wc"/>
<rect x="626.8" y="420.2" width="72.3" height="3" class="wb"/>
<rect x="827.4" y="418.9" width="2.4" height="5.6" class="wc"/>
<rect x="855.2" y="418.9" width="2.4" height="5.6" class="wc"/>
<rect x="829.8" y="420.2" width="25.4" height="3" class="wb"/>
<line x1="589.2" y1="416.8" x2="589.2" y2="652"/>
<line x1="592.6" y1="468.2" x2="592.6" y2="988"/>
<line x1="603.1" y1="468.2" x2="603.1" y2="625.6"/>
<rect x="592.3" y="625" width="10.9" height="27" class="hw"/>
<rect x="595.4" y="652" width="5.6" height="2.4" class="wc"/>
<rect x="595.4" y="751.2" width="5.6" height="2.4" class="wc"/>
<rect x="596.7" y="654.4" width="3" height="96.8" class="wb"/>
<rect x="589.6" y="753.6" width="13.6" height="13.5"/>
<rect x="592.3" y="767.1" width="12.8" height="86.6" class="hw"/>
<line x1="589.6" y1="767.1" x2="589.6" y2="988"/>
<line x1="603.2" y1="853.7" x2="603.2" y2="959.3"/>
<rect x="592.3" y="959.3" width="12.8" height="25.7" class="hw"/>
<polyline points="569.3,583.8 501.7,583.8 501.7,985.4"/>
<line x1="501.7" y1="974.2" x2="592.3" y2="974.2"/>
<line x1="505.7" y1="985" x2="592.3" y2="985"/>
<polyline points="569.3,662.9 592.3,662.9"/>
<polyline points="576.1,657.5 589.6,657.5"/>
<line x1="505.7" y1="985" x2="505.7" y2="1103.8"/>
<line x1="506.4" y1="1103.8" x2="592.6" y2="1103.8"/>
<rect x="610" y="448.5" width="14.5" height="18.1"/>
<rect x="609.2" y="470.2" width="86.2" height="68.9"/>
<rect x="608.3" y="544.1" width="19.2" height="78.1"/>
<rect x="665" y="432.3" width="25.2" height="16.9" class="thin"/>
<text x="675.6" y="437.2" font-size="4.2" text-anchor="middle" class="ts">Π</text>
<line x1="667" y1="439.4" x2="687.2" y2="439.4" class="thin"/>
<text x="672.1" y="443.6" font-size="3.2" text-anchor="middle" class="ts">2.20</text>
<text x="672.1" y="447" font-size="3.2" text-anchor="middle" class="ts">1.40</text>
<text x="683.9" y="445.3" font-size="3.2" text-anchor="middle" class="ts">1.80</text>
<line x1="603.1" y1="491.8" x2="883.8" y2="491.8"/>
<line x1="603.1" y1="488.3" x2="603.1" y2="495.3" class="tk"/>
<path d="M601.5,491.8 L603.1,490.5 L604.7,491.8 L603.1,493.1Z" class="tkf"/>
<line x1="773.2" y1="488.3" x2="773.2" y2="495.3" class="tk"/>
<path d="M771.6,491.8 L773.2,490.5 L774.8,491.8 L773.2,493.1Z" class="tkf"/>
<line x1="778.4" y1="488.3" x2="778.4" y2="495.3" class="tk"/>
<path d="M776.8,491.8 L778.4,490.5 L780,491.8 L778.4,493.1Z" class="tkf"/>
<line x1="883.8" y1="488.3" x2="883.8" y2="495.3" class="tk"/>
<path d="M882.2,491.8 L883.8,490.5 L885.4,491.8 L883.8,493.1Z" class="tkf"/>
<text x="688.5" y="488.4" font-size="10.8" text-anchor="middle" class="t">3.95</text>
<text x="775.8" y="489.3" font-size="10.8" text-anchor="middle" class="t">0.10</text>
<text x="830.7" y="489.3" font-size="10.8" text-anchor="middle" class="t">2.45</text>
<line x1="660.6" y1="427" x2="660.6" y2="988.6"/>
<text x="652.7" y="605.9" font-size="10.8" text-anchor="middle" transform="rotate(-90 652.7 602)" class="t">8.10</text>
<text x="653.6" y="879.1" font-size="10.8" text-anchor="middle" transform="rotate(-90 653.6 875.2)" class="t">4.60</text>
<text x="653.6" y="984" font-size="10.8" text-anchor="middle" transform="rotate(-90 653.6 980.1)" class="t">0.25</text>
<polygon points="652.3,649.1 683.7,617.6 714.2,647.4 684.6,677.5"/>
<polygon points="660.2,649.8 684.6,625 710.2,650.8 685.4,674.2"/>
<line x1="684.6" y1="625.5" x2="710.2" y2="650.8" class="thick"/>
<rect x="734" y="632.6" width="41.6" height="87"/>
<rect x="776" y="667" width="16" height="21"/>
<ellipse cx="783" cy="677.5" rx="7" ry="11"/>
<rect x="607.5" y="690.5" width="26.1" height="16.6" class="thin"/>
<text x="618.5" y="695.3" font-size="4.2" text-anchor="middle" class="ts">Π</text>
<line x1="609.5" y1="697.5" x2="630.6" y2="697.5" class="thin"/>
<text x="614.8" y="701.6" font-size="3.2" text-anchor="middle" class="ts">2.26</text>
<text x="614.8" y="704.9" font-size="3.2" text-anchor="middle" class="ts">1.28</text>
<text x="627.1" y="703.3" font-size="3.2" text-anchor="middle" class="ts">2.40</text>
<rect x="747.4" y="427" width="25.8" height="108"/>
<line x1="747.4" y1="448.8" x2="773.2" y2="448.8"/>
<line x1="747.4" y1="470.6" x2="773.2" y2="470.6"/>
<line x1="747.4" y1="491.5" x2="773.2" y2="491.5"/>
<line x1="747.4" y1="513.2" x2="773.2" y2="513.2"/>
<line x1="773.2" y1="427" x2="773.2" y2="535"/>
<line x1="778.4" y1="427" x2="778.4" y2="535"/>
<rect x="799.3" y="429.6" width="22.7" height="18.3"/>
<rect x="801.5" y="432" width="18.5" height="14"/>
<circle cx="810.5" cy="436" r="1.5"/>
<rect x="828.9" y="430" width="26.7" height="17" class="thin"/>
<text x="840.1" y="434.9" font-size="4.2" text-anchor="middle" class="ts">Π</text>
<line x1="830.9" y1="437.1" x2="852.6" y2="437.1" class="thin"/>
<text x="836.4" y="441.3" font-size="3.2" text-anchor="middle" class="ts">2.26</text>
<text x="836.4" y="444.7" font-size="3.2" text-anchor="middle" class="ts">1.43</text>
<text x="848.9" y="443" font-size="3.2" text-anchor="middle" class="ts">0.70</text>
<line x1="779.3" y1="449.7" x2="857.7" y2="449.7"/>
<rect x="857.7" y="427" width="26.1" height="26.1"/>
<ellipse cx="861.1" cy="479.3" rx="8.7" ry="7.8"/>
<rect x="873.3" y="468.5" width="7.9" height="21.2"/>
<text x="829.8" y="474.1" font-size="8.5" text-anchor="middle" class="t">μπανιο</text>
<text x="788.9" y="473.6" font-size="10.8" text-anchor="middle" transform="rotate(-90 788.9 469.7)" class="t">2.01</text>
<line x1="795.5" y1="426" x2="795.5" y2="515"/>
<line x1="792" y1="426" x2="799" y2="426" class="tk"/>
<path d="M795.5,424.4 L794.2,426 L795.5,427.6 L796.8,426Z" class="tkf"/>
<line x1="792" y1="515" x2="799" y2="515" class="tk"/>
<path d="M795.5,513.4 L794.2,515 L795.5,516.6 L796.8,515Z" class="tkf"/>
<path d="M784.4,483.6 A31.4,31.4 0 0 1 813.2,515"/>
<line x1="784.4" y1="483.6" x2="784.4" y2="515"/>
<circle cx="798.4" cy="504.5" r="11.3"/>
<text x="796.9" y="500.9" font-size="4" text-anchor="middle" class="ts">Θ</text>
<line x1="788.6" y1="503.7" x2="807.2" y2="503.7" class="thin"/>
<text x="793.9" y="508.2" font-size="3.2" text-anchor="middle" class="ts">2.22</text>
<text x="793.9" y="511.2" font-size="3.2" text-anchor="middle" class="ts">2.00</text>
<text x="803.4" y="509.6" font-size="3.2" text-anchor="middle" class="ts">0.80</text>
<line x1="798.4" y1="493.2" x2="798.4" y2="515.8" class="thin"/>
<rect x="781.5" y="513" width="4.5" height="5" class="thin"/>
<rect x="812" y="513" width="8" height="5" class="thin"/>
<polyline points="822.8,504.5 822.8,680.4"/>
<rect x="827.2" y="504.5" width="58.3" height="43.6"/>
<line x1="822.8" y1="552.4" x2="885.5" y2="552.4"/>
<line x1="822.8" y1="556.8" x2="885.5" y2="556.8"/>
<line x1="822.8" y1="596" x2="885.5" y2="596"/>
<text x="830.7" y="573.3" font-size="6.5" text-anchor="middle" class="t">16</text>
<text x="841.1" y="573.3" font-size="6.5" text-anchor="middle" class="t">15</text>
<text x="850.7" y="573.3" font-size="6.5" text-anchor="middle" class="t">14</text>
<text x="861.1" y="573.3" font-size="6.5" text-anchor="middle" class="t">13</text>
<line x1="834.8" y1="556.8" x2="834.8" y2="596"/>
<line x1="846.3" y1="556.8" x2="846.3" y2="596"/>
<line x1="834.8" y1="575.9" x2="866.7" y2="575.9"/>
<polyline points="834.8,556.9 822.9,574.2 834.8,595"/>
<line x1="847" y1="594.8" x2="860.6" y2="556.9"/>
<line x1="847" y1="594.8" x2="885.5" y2="556.9"/>
<line x1="847" y1="594.8" x2="885.5" y2="578.3"/>
<line x1="822.8" y1="596" x2="846.3" y2="596"/>
<line x1="844.6" y1="596" x2="885.7" y2="596"/>
<line x1="844.6" y1="608.2" x2="885.7" y2="608.2"/>
<line x1="844.6" y1="620.4" x2="885.7" y2="620.4"/>
<line x1="844.6" y1="632.6" x2="885.7" y2="632.6"/>
<line x1="844.6" y1="644.4" x2="885.7" y2="644.4"/>
<line x1="844.6" y1="656.6" x2="885.7" y2="656.6"/>
<line x1="844.6" y1="668.7" x2="885.7" y2="668.7"/>
<line x1="844.6" y1="680.1" x2="885.7" y2="680.1"/>
<line x1="845.6" y1="692.3" x2="885.7" y2="692.3" class="dash"/>
<line x1="845.6" y1="704.5" x2="885.7" y2="704.5" class="dash"/>
<line x1="845.6" y1="680.1" x2="845.6" y2="704.5" class="dash"/>
<line x1="844.6" y1="596" x2="844.6" y2="680.4"/>
<line x1="846.5" y1="596" x2="846.5" y2="680.4"/>
<line x1="866.6" y1="576" x2="866.6" y2="704.5"/>
<rect x="822.1" y="600" width="21.8" height="80.4"/>
<text x="871.6" y="579.1" font-size="6.5" text-anchor="middle" class="t">12</text>
<text x="871.6" y="590.5" font-size="6.5" text-anchor="middle" class="t">11</text>
<text x="871.6" y="601.8" font-size="6.5" text-anchor="middle" class="t">10</text>
<text x="871.6" y="614" font-size="6.5" text-anchor="middle" class="t">9</text>
<text x="871.6" y="626.2" font-size="6.5" text-anchor="middle" class="t">8</text>
<text x="871.6" y="637.8" font-size="6.5" text-anchor="middle" class="t">7</text>
<text x="871.6" y="649.7" font-size="6.5" text-anchor="middle" class="t">6</text>
<text x="871.6" y="661.9" font-size="6.5" text-anchor="middle" class="t">5</text>
<text x="871.6" y="674.1" font-size="6.5" text-anchor="middle" class="t">4</text>
<text x="870" y="688.3" font-size="6.5" text-anchor="middle" class="t">3</text>
<text x="870" y="700.3" font-size="6.5" text-anchor="middle" class="t">2</text>
<text x="872" y="711.3" font-size="6.5" text-anchor="middle" class="t">1</text>
<circle cx="866.6" cy="704.5" r="2"/>
<line x1="810.1" y1="555" x2="810.1" y2="596"/>
<line x1="806.6" y1="555" x2="813.6" y2="555" class="tk"/>
<path d="M810.1,553.4 L808.8,555 L810.1,556.6 L811.4,555Z" class="tkf"/>
<line x1="806.6" y1="596" x2="813.6" y2="596" class="tk"/>
<path d="M810.1,594.4 L808.8,596 L810.1,597.6 L811.4,596Z" class="tkf"/>
<text x="802.8" y="579.9" font-size="10.8" text-anchor="middle" transform="rotate(-90 802.8 576)" class="t">0.90</text>
<line x1="885.7" y1="427" x2="885.7" y2="985"/>
<line x1="896.2" y1="502.8" x2="896.2" y2="1104"/>
<rect x="886.6" y="643.5" width="9.6" height="23.5" class="hw"/>
<rect x="889.2" y="605.6" width="5.6" height="2.4" class="wc"/>
<rect x="889.2" y="619.7" width="5.6" height="2.4" class="wc"/>
<rect x="890.5" y="608" width="3" height="11.7" class="wb"/>
<rect x="901.2" y="605.6" width="26.2" height="16" class="thin"/>
<text x="912.2" y="610.3" font-size="4.2" text-anchor="middle" class="ts">Π</text>
<line x1="903.2" y1="612.3" x2="924.4" y2="612.3" class="thin"/>
<text x="908.5" y="616.3" font-size="3.2" text-anchor="middle" class="ts">0.86</text>
<text x="908.5" y="619.5" font-size="3.2" text-anchor="middle" class="ts">0.18</text>
<text x="920.9" y="617.9" font-size="3.2" text-anchor="middle" class="ts">0.40</text>
<line x1="899.5" y1="597.7" x2="1005.7" y2="597.7"/>
<line x1="899.5" y1="602.1" x2="1005.7" y2="602.1"/>
<line x1="896" y1="580.3" x2="1009.2" y2="580.3"/>
<line x1="896" y1="576.8" x2="896" y2="583.8" class="tk"/>
<path d="M894.4,580.3 L896,579 L897.6,580.3 L896,581.6Z" class="tkf"/>
<line x1="963" y1="576.8" x2="963" y2="583.8" class="tk"/>
<path d="M961.4,580.3 L963,579 L964.6,580.3 L963,581.6Z" class="tkf"/>
<line x1="1009.2" y1="576.8" x2="1009.2" y2="583.8" class="tk"/>
<path d="M1007.6,580.3 L1009.2,579 L1010.8,580.3 L1009.2,581.6Z" class="tkf"/>
<line x1="963" y1="580.3" x2="963" y2="596.9"/>
<text x="952.3" y="577.1" font-size="10.8" text-anchor="middle" class="t">2.62</text>
<text x="974" y="577.3" font-size="6.5" text-anchor="middle" class="t">ξύλινες περσίδες</text>
<line x1="940.4" y1="603" x2="940.4" y2="694"/>
<line x1="936.9" y1="603" x2="943.9" y2="603" class="tk"/>
<path d="M940.4,601.4 L939.1,603 L940.4,604.6 L941.7,603Z" class="tkf"/>
<line x1="936.9" y1="622.1" x2="943.9" y2="622.1" class="tk"/>
<path d="M940.4,620.5 L939.1,622.1 L940.4,623.7 L941.7,622.1Z" class="tkf"/>
<line x1="936.9" y1="694" x2="943.9" y2="694" class="tk"/>
<path d="M940.4,692.4 L939.1,694 L940.4,695.6 L941.7,694Z" class="tkf"/>
<text x="933.4" y="617.3" font-size="10.8" text-anchor="middle" transform="rotate(-90 933.4 613.4)" class="t">0.40</text>
<text x="933.4" y="661.7" font-size="10.8" text-anchor="middle" transform="rotate(-90 933.4 657.8)" class="t">1.66</text>
<line x1="977.9" y1="602.1" x2="977.9" y2="694"/>
<text x="971.1" y="652.6" font-size="10.8" text-anchor="middle" transform="rotate(-90 971.1 648.7)" class="t">2.13</text>
<text x="952.6" y="672.2" font-size="10.8" text-anchor="middle" class="t">2.62</text>
<line x1="896.2" y1="675.3" x2="1009.2" y2="675.3"/>
<line x1="896.2" y1="671.8" x2="896.2" y2="678.8" class="tk"/>
<path d="M894.6,675.3 L896.2,674 L897.8,675.3 L896.2,676.6Z" class="tkf"/>
<line x1="1009.2" y1="671.8" x2="1009.2" y2="678.8" class="tk"/>
<path d="M1007.6,675.3 L1009.2,674 L1010.8,675.3 L1009.2,676.6Z" class="tkf"/>
<line x1="896.2" y1="694" x2="1005.7" y2="694"/>
<line x1="896.2" y1="703.6" x2="1005.7" y2="703.6"/>
<line x1="940.6" y1="690.5" x2="940.6" y2="697.5" class="tk"/>
<path d="M939,694 L940.6,692.7 L942.2,694 L940.6,695.3Z" class="tkf"/>
<line x1="946.7" y1="690.5" x2="946.7" y2="697.5" class="tk"/>
<path d="M945.1,694 L946.7,692.7 L948.3,694 L946.7,695.3Z" class="tkf"/>
<line x1="977.7" y1="690.5" x2="977.7" y2="697.5" class="tk"/>
<path d="M976.1,694 L977.7,692.7 L979.3,694 L977.7,695.3Z" class="tkf"/>
<line x1="935.9" y1="703.1" x2="935.9" y2="767.7"/>
<line x1="932.4" y1="703.1" x2="939.4" y2="703.1" class="tk"/>
<path d="M935.9,701.5 L934.6,703.1 L935.9,704.7 L937.2,703.1Z" class="tkf"/>
<line x1="932.4" y1="767.7" x2="939.4" y2="767.7" class="tk"/>
<path d="M935.9,766.1 L934.6,767.7 L935.9,769.3 L937.2,767.7Z" class="tkf"/>
<text x="929.3" y="739.7" font-size="10.8" text-anchor="middle" transform="rotate(-90 929.3 735.8)" class="t">1.49</text>
<text x="952.8" y="912.2" font-size="10.8" text-anchor="middle" class="t">2.62</text>
<line x1="605.2" y1="767.5" x2="711.5" y2="767.5"/>
<line x1="765.5" y1="767.5" x2="885.7" y2="767.5"/>
<line x1="605.2" y1="772.4" x2="885.7" y2="772.4"/>
<line x1="605.2" y1="776.8" x2="885.7" y2="776.8"/>
<line x1="605.2" y1="778.5" x2="711.5" y2="778.5"/>
<line x1="765.5" y1="778.5" x2="885.7" y2="778.5"/>
<rect x="870.9" y="767.5" width="25.3" height="10.1" class="hw"/>
<line x1="896.2" y1="778.5" x2="1009.3" y2="778.5"/>
<text x="744.2" y="739.2" font-size="9.5" text-anchor="middle" class="t">εσωτερικος εξωστης</text>
<line x1="605.7" y1="777.6" x2="885.7" y2="974.6"/>
<line x1="885.7" y1="777.6" x2="605.7" y2="974.6"/>
<line x1="592.6" y1="915.3" x2="1173.6" y2="915.3"/>
<line x1="592.6" y1="911.8" x2="592.6" y2="918.8" class="tk"/>
<path d="M591,915.3 L592.6,914 L594.2,915.3 L592.6,916.6Z" class="tkf"/>
<line x1="603.1" y1="911.8" x2="603.1" y2="918.8" class="tk"/>
<path d="M601.5,915.3 L603.1,914 L604.7,915.3 L603.1,916.6Z" class="tkf"/>
<line x1="885.7" y1="911.8" x2="885.7" y2="918.8" class="tk"/>
<path d="M884.1,915.3 L885.7,914 L887.3,915.3 L885.7,916.6Z" class="tkf"/>
<line x1="896.2" y1="911.8" x2="896.2" y2="918.8" class="tk"/>
<path d="M894.6,915.3 L896.2,914 L897.8,915.3 L896.2,916.6Z" class="tkf"/>
<line x1="1009" y1="911.8" x2="1009" y2="918.8" class="tk"/>
<path d="M1007.4,915.3 L1009,914 L1010.6,915.3 L1009,916.6Z" class="tkf"/>
<line x1="1019.6" y1="911.8" x2="1019.6" y2="918.8" class="tk"/>
<path d="M1018,915.3 L1019.6,914 L1021.2,915.3 L1019.6,916.6Z" class="tkf"/>
<line x1="1172.9" y1="911.8" x2="1172.9" y2="918.8" class="tk"/>
<path d="M1171.3,915.3 L1172.9,914 L1174.5,915.3 L1172.9,916.6Z" class="tkf"/>
<text x="597.9" y="912.4" font-size="10.8" text-anchor="middle" class="t">0.25</text>
<text x="744.6" y="912.2" font-size="10.8" text-anchor="middle" class="t">6.55</text>
<text x="890.6" y="912.2" font-size="10.8" text-anchor="middle" class="t">0.25</text>
<text x="1014.4" y="912" font-size="10.8" text-anchor="middle" class="t">0.25</text>
<text x="1096.3" y="912" font-size="10.8" text-anchor="middle" class="t">3.56</text>
<line x1="605.7" y1="974.4" x2="870.6" y2="974.4"/>
<line x1="605.7" y1="985.4" x2="870.6" y2="985.4"/>
<rect x="870.6" y="974.4" width="25.6" height="11" class="hw"/>
<line x1="660.6" y1="974.6" x2="660.6" y2="985.4"/>
<line x1="657.1" y1="974.6" x2="664.1" y2="974.6" class="tk"/>
<path d="M660.6,973 L659.3,974.6 L660.6,976.2 L661.9,974.6Z" class="tkf"/>
<line x1="657.1" y1="985.4" x2="664.1" y2="985.4" class="tk"/>
<path d="M660.6,983.8 L659.3,985.4 L660.6,987 L661.9,985.4Z" class="tkf"/>
<rect x="592.8" y="985.4" width="266.8" height="117.9"/>
<line x1="592.8" y1="991.5" x2="859.6" y2="991.5"/>
<line x1="592.8" y1="1088.5" x2="853.8" y2="1088.5"/>
<line x1="853.8" y1="991.5" x2="853.8" y2="1097"/>
<line x1="599.5" y1="991.5" x2="599.5" y2="1097" class="gl"/>
<line x1="601.5" y1="991.5" x2="601.5" y2="1097" class="gl"/>
<line x1="606" y1="991.5" x2="606" y2="1097" class="gb"/>
<line x1="612.5" y1="991.5" x2="612.5" y2="1097" class="gl"/>
<line x1="614.5" y1="991.5" x2="614.5" y2="1097" class="gl"/>
<line x1="620" y1="991.5" x2="620" y2="1097" class="gb"/>
<line x1="625.5" y1="991.5" x2="625.5" y2="1097" class="gl"/>
<line x1="627.5" y1="991.5" x2="627.5" y2="1097" class="gl"/>
<line x1="633" y1="991.5" x2="633" y2="1097" class="gb"/>
<line x1="638.5" y1="991.5" x2="638.5" y2="1097" class="gl"/>
<line x1="640.5" y1="991.5" x2="640.5" y2="1097" class="gl"/>
<line x1="646" y1="991.5" x2="646" y2="1097" class="gb"/>
<line x1="652.5" y1="991.5" x2="652.5" y2="1097" class="gl"/>
<line x1="654.5" y1="991.5" x2="654.5" y2="1097" class="gl"/>
<line x1="659" y1="991.5" x2="659" y2="1097" class="gb"/>
<line x1="665.5" y1="991.5" x2="665.5" y2="1097" class="gl"/>
<line x1="667.5" y1="991.5" x2="667.5" y2="1097" class="gl"/>
<line x1="672" y1="991.5" x2="672" y2="1097" class="gb"/>
<line x1="678.5" y1="991.5" x2="678.5" y2="1097" class="gl"/>
<line x1="680.5" y1="991.5" x2="680.5" y2="1097" class="gl"/>
<line x1="686" y1="991.5" x2="686" y2="1097" class="gb"/>
<line x1="691.5" y1="991.5" x2="691.5" y2="1097" class="gl"/>
<line x1="693.5" y1="991.5" x2="693.5" y2="1097" class="gl"/>
<line x1="699" y1="991.5" x2="699" y2="1097" class="gb"/>
<line x1="704.5" y1="991.5" x2="704.5" y2="1097" class="gl"/>
<line x1="706.5" y1="991.5" x2="706.5" y2="1097" class="gl"/>
<line x1="712" y1="991.5" x2="712" y2="1097" class="gb"/>
<line x1="718.5" y1="991.5" x2="718.5" y2="1097" class="gl"/>
<line x1="720.5" y1="991.5" x2="720.5" y2="1097" class="gl"/>
<line x1="725" y1="991.5" x2="725" y2="1097" class="gb"/>
<line x1="731.5" y1="991.5" x2="731.5" y2="1097" class="gl"/>
<line x1="733.5" y1="991.5" x2="733.5" y2="1097" class="gl"/>
<line x1="738" y1="991.5" x2="738" y2="1097" class="gb"/>
<line x1="744.5" y1="991.5" x2="744.5" y2="1097" class="gl"/>
<line x1="746.5" y1="991.5" x2="746.5" y2="1097" class="gl"/>
<line x1="752" y1="991.5" x2="752" y2="1097" class="gb"/>
<line x1="757.5" y1="991.5" x2="757.5" y2="1097" class="gl"/>
<line x1="759.5" y1="991.5" x2="759.5" y2="1097" class="gl"/>
<line x1="765" y1="991.5" x2="765" y2="1097" class="gb"/>
<line x1="770.5" y1="991.5" x2="770.5" y2="1097" class="gl"/>
<line x1="772.5" y1="991.5" x2="772.5" y2="1097" class="gl"/>
<line x1="778" y1="991.5" x2="778" y2="1097" class="gb"/>
<line x1="784.5" y1="991.5" x2="784.5" y2="1097" class="gl"/>
<line x1="786.5" y1="991.5" x2="786.5" y2="1097" class="gl"/>
<line x1="791" y1="991.5" x2="791" y2="1097" class="gb"/>
<line x1="797.5" y1="991.5" x2="797.5" y2="1097" class="gl"/>
<line x1="799.5" y1="991.5" x2="799.5" y2="1097" class="gl"/>
<line x1="804" y1="991.5" x2="804" y2="1097" class="gb"/>
<line x1="810.5" y1="991.5" x2="810.5" y2="1097" class="gl"/>
<line x1="812.5" y1="991.5" x2="812.5" y2="1097" class="gl"/>
<line x1="818" y1="991.5" x2="818" y2="1097" class="gb"/>
<line x1="823.5" y1="991.5" x2="823.5" y2="1097" class="gl"/>
<line x1="825.5" y1="991.5" x2="825.5" y2="1097" class="gl"/>
<line x1="831" y1="991.5" x2="831" y2="1097" class="gb"/>
<line x1="836.5" y1="991.5" x2="836.5" y2="1097" class="gl"/>
<line x1="838.5" y1="991.5" x2="838.5" y2="1097" class="gl"/>
<line x1="844" y1="991.5" x2="844" y2="1097" class="gb"/>
<line x1="850.5" y1="991.5" x2="850.5" y2="1097" class="gl"/>
<line x1="852.5" y1="991.5" x2="852.5" y2="1097" class="gl"/>
<polyline points="859.6,988.2 880,988.2 880,1007 899.9,1007 899.9,988.7"/>
<line x1="883.2" y1="985.4" x2="883.2" y2="1004.4"/>
<rect x="896.3" y="985.2" width="112.5" height="99.2"/>
<rect x="900" y="988.1" width="106.6" height="91.9"/>
<line x1="900" y1="1058.9" x2="1006.6" y2="1058.9"/>
<line x1="900" y1="1062.2" x2="1006.6" y2="1062.2"/>
<line x1="896.3" y1="979" x2="994" y2="979"/>
<rect x="880" y="974.1" width="16.3" height="11.1" class="hw"/>
<rect x="994" y="971.8" width="25.9" height="13.4" class="hw"/>
<polyline points="1005.5,694 1005.5,587.4 1030,587.4 1030,595.5 1082.6,595.5 1082.6,587.4 1184.3,587.4"/>
<line x1="1009.3" y1="591.8" x2="1029" y2="591.8"/>
<polyline points="1086.6,597.8 1086.6,591.8 1184.3,591.8 1184.3,597.8"/>
<polyline points="1224,597.8 1224,587.4 1316,587.4 1316,680.2"/>
<polyline points="1228.4,597.8 1228.4,591.8 1312.8,591.8"/>
<line x1="1009.3" y1="597.8" x2="1312.8" y2="597.8"/>
<line x1="1019.6" y1="608.9" x2="1228.4" y2="608.9"/>
<rect x="1009.3" y="597.8" width="10.3" height="97.7" class="hw"/>
<rect x="1084" y="597.8" width="97.8" height="10.3" class="xw"/>
<rect x="1184.3" y="599.8" width="2.4" height="5.6" class="wc"/>
<rect x="1221.6" y="599.8" width="2.4" height="5.6" class="wc"/>
<rect x="1186.7" y="601.1" width="34.9" height="3" class="wb"/>
<rect x="1228.4" y="597.8" width="84.4" height="92.5" class="hw"/>
<rect x="1239.5" y="608.9" width="62.2" height="76.2" class="fillw"/>
<line x1="1239.5" y1="608.9" x2="1301.7" y2="685.1"/>
<line x1="1301.7" y1="608.9" x2="1239.5" y2="685.1"/>
<line x1="1239.5" y1="632.6" x2="1301.7" y2="632.6"/>
<line x1="1239.5" y1="629.1" x2="1239.5" y2="636.1" class="tk"/>
<path d="M1237.9,632.6 L1239.5,631.3 L1241.1,632.6 L1239.5,633.9Z" class="tkf"/>
<line x1="1301.7" y1="629.1" x2="1301.7" y2="636.1" class="tk"/>
<path d="M1300.1,632.6 L1301.7,631.3 L1303.3,632.6 L1301.7,633.9Z" class="tkf"/>
<text x="1270.6" y="629.8" font-size="10.8" text-anchor="middle" class="t">1.45</text>
<line x1="1250.6" y1="608.9" x2="1250.6" y2="685.1"/>
<line x1="1247.1" y1="608.9" x2="1254.1" y2="608.9" class="tk"/>
<path d="M1250.6,607.3 L1249.3,608.9 L1250.6,610.5 L1251.9,608.9Z" class="tkf"/>
<line x1="1247.1" y1="685.1" x2="1254.1" y2="685.1" class="tk"/>
<path d="M1250.6,683.5 L1249.3,685.1 L1250.6,686.7 L1251.9,685.1Z" class="tkf"/>
<text x="1244" y="650.5" font-size="10.8" text-anchor="middle" transform="rotate(-90 1244 646.6)" class="t">1.78</text>
<rect x="1250.6" y="685.1" width="39.4" height="5.2" class="thin"/>
<rect x="1190.3" y="610.5" width="26.1" height="16.2" class="thin"/>
<text x="1201.3" y="615.2" font-size="4.2" text-anchor="middle" class="ts">Π</text>
<line x1="1192.3" y1="617.3" x2="1213.4" y2="617.3" class="thin"/>
<text x="1197.6" y="621.4" font-size="3.2" text-anchor="middle" class="ts">1.75</text>
<text x="1197.6" y="624.6" font-size="3.2" text-anchor="middle" class="ts">0.25</text>
<text x="1209.9" y="623" font-size="3.2" text-anchor="middle" class="ts">0.90</text>
<line x1="1076.6" y1="608.9" x2="1076.6" y2="660.7"/>
<line x1="1088.5" y1="608.9" x2="1088.5" y2="660.7"/>
<line x1="1100.8" y1="608.9" x2="1100.8" y2="660.7"/>
<line x1="1112.9" y1="608.9" x2="1112.9" y2="660.7"/>
<line x1="1125" y1="608.9" x2="1125" y2="660.7"/>
<line x1="1137.3" y1="608.9" x2="1137.3" y2="660.7"/>
<line x1="1149.5" y1="608.9" x2="1149.5" y2="660.7"/>
<line x1="1161.8" y1="608.9" x2="1161.8" y2="660.7"/>
<line x1="1173.6" y1="608.9" x2="1173.6" y2="660.7"/>
<text x="1079.6" y="641.5" font-size="6.5" text-anchor="middle" class="t">13</text>
<text x="1095.1" y="641.5" font-size="6.5" text-anchor="middle" class="t">12</text>
<text x="1104" y="641.5" font-size="6.5" text-anchor="middle" class="t">11</text>
<text x="1116.6" y="641.5" font-size="6.5" text-anchor="middle" class="t">10</text>
<text x="1126.2" y="641.5" font-size="6.5" text-anchor="middle" class="t">9</text>
<text x="1138.1" y="641.5" font-size="6.5" text-anchor="middle" class="t">8</text>
<text x="1150" y="641.5" font-size="6.5" text-anchor="middle" class="t">7</text>
<text x="1162.5" y="641.5" font-size="6.5" text-anchor="middle" class="t">6</text>
<text x="1174.4" y="641.5" font-size="6.5" text-anchor="middle" class="t">5</text>
<polyline points="1045.5,696.2 1045.5,634 1202.5,634 1202.5,696.2"/>
<line x1="1019.6" y1="660.7" x2="1071.4" y2="660.7"/>
<line x1="1175.8" y1="660.7" x2="1228.4" y2="660.7"/>
<line x1="1019.6" y1="672.5" x2="1071.4" y2="672.5"/>
<line x1="1175.8" y1="672.5" x2="1228.4" y2="672.5"/>
<line x1="1019.6" y1="684.4" x2="1071.4" y2="684.4"/>
<line x1="1175.8" y1="684.4" x2="1228.4" y2="684.4"/>
<line x1="1019.6" y1="696.2" x2="1071.4" y2="696.2"/>
<line x1="1175.8" y1="696.2" x2="1228.4" y2="696.2"/>
<text x="1048.5" y="660" font-size="6.5" text-anchor="start" class="t">14</text>
<text x="1048.5" y="671.9" font-size="6.5" text-anchor="start" class="t">15</text>
<text x="1048.5" y="683.7" font-size="6.5" text-anchor="start" class="t">16</text>
<text x="1048.5" y="695.6" font-size="6.5" text-anchor="start" class="t">17</text>
<text x="1206.2" y="667.4" font-size="6.5" text-anchor="start" class="t">4</text>
<text x="1206.2" y="679.3" font-size="6.5" text-anchor="start" class="t">3</text>
<text x="1206.2" y="691.1" font-size="6.5" text-anchor="start" class="t">2</text>
<polyline points="1019.6,684.4 1045.5,696.2 1071.4,684.4"/>
<rect x="1071.4" y="660.7" width="104.4" height="35.5"/>
<rect x="1073.7" y="662.9" width="100.7" height="31.9"/>
<line x1="1073.7" y1="662.9" x2="1174.4" y2="694.8"/>
<line x1="1174.4" y1="662.9" x2="1073.7" y2="694.8"/>
<circle cx="1202.5" cy="696.2" r="1.8"/>
<line x1="1019.6" y1="713.3" x2="1301.7" y2="713.3"/>
<line x1="1019.6" y1="709.8" x2="1019.6" y2="716.8" class="tk"/>
<path d="M1018,713.3 L1019.6,712 L1021.2,713.3 L1019.6,714.6Z" class="tkf"/>
<line x1="1071.4" y1="709.8" x2="1071.4" y2="716.8" class="tk"/>
<path d="M1069.8,713.3 L1071.4,712 L1073,713.3 L1071.4,714.6Z" class="tkf"/>
<line x1="1176.6" y1="709.8" x2="1176.6" y2="716.8" class="tk"/>
<path d="M1175,713.3 L1176.6,712 L1178.2,713.3 L1176.6,714.6Z" class="tkf"/>
<line x1="1228.4" y1="709.8" x2="1228.4" y2="716.8" class="tk"/>
<path d="M1226.8,713.3 L1228.4,712 L1230,713.3 L1228.4,714.6Z" class="tkf"/>
<line x1="1252.8" y1="709.8" x2="1252.8" y2="716.8" class="tk"/>
<path d="M1251.2,713.3 L1252.8,712 L1254.4,713.3 L1252.8,714.6Z" class="tkf"/>
<line x1="1291.3" y1="709.8" x2="1291.3" y2="716.8" class="tk"/>
<path d="M1289.7,713.3 L1291.3,712 L1292.9,713.3 L1291.3,714.6Z" class="tkf"/>
<line x1="1301.7" y1="709.8" x2="1301.7" y2="716.8" class="tk"/>
<path d="M1300.1,713.3 L1301.7,712 L1303.3,713.3 L1301.7,714.6Z" class="tkf"/>
<text x="1046" y="710.4" font-size="10.8" text-anchor="middle" class="t">1.20</text>
<text x="1124" y="710.4" font-size="10.8" text-anchor="middle" class="t">2.44</text>
<text x="1202.5" y="710.4" font-size="10.8" text-anchor="middle" class="t">1.20</text>
<text x="1240.3" y="710.4" font-size="10.8" text-anchor="middle" class="t">0.57</text>
<text x="1272.1" y="710.4" font-size="10.8" text-anchor="middle" class="t">0.90</text>
<text x="1296.5" y="710.4" font-size="10.8" text-anchor="middle" class="t">0.24</text>
<line x1="1221" y1="696.7" x2="1221" y2="763.6"/>
<line x1="1217.5" y1="696.7" x2="1224.5" y2="696.7" class="tk"/>
<path d="M1221,695.1 L1219.7,696.7 L1221,698.3 L1222.3,696.7Z" class="tkf"/>
<line x1="1217.5" y1="763.6" x2="1224.5" y2="763.6" class="tk"/>
<path d="M1221,762 L1219.7,763.6 L1221,765.2 L1222.3,763.6Z" class="tkf"/>
<text x="1213.6" y="733.5" font-size="10.8" text-anchor="middle" transform="rotate(-90 1213.6 729.6)" class="t">1.54</text>
<line x1="1228.4" y1="690.3" x2="1228.4" y2="762"/>
<line x1="1019.6" y1="695.5" x2="1019.6" y2="1075.5"/>
<line x1="1009.3" y1="695.5" x2="1009.3" y2="1075.5"/>
<line x1="1301.7" y1="685.1" x2="1301.7" y2="1015"/>
<line x1="1312.8" y1="690.3" x2="1312.8" y2="1180"/>
<circle cx="1092.2" cy="739.2" r="4"/>
<path d="M1092.2,735.2 A4,4 0 0 1 1096.2,739.2 L1092.2,739.2Z M1092.2,743.2 A4,4 0 0 1 1088.2,739.2 L1092.2,739.2Z" class="tkf"/>
<line x1="1086" y1="739.2" x2="1119" y2="739.2" class="thin"/>
<line x1="1092.2" y1="733" x2="1092.2" y2="746" class="thin"/>
<text x="1111.4" y="738.6" font-size="10.8" text-anchor="middle" class="t">+17.70</text>
<circle cx="1006.7" cy="737.4" r="11.9"/>
<text x="1005.2" y="733.8" font-size="4" text-anchor="middle" class="ts">Θ</text>
<line x1="996.3" y1="736.6" x2="1016.1" y2="736.6" class="thin"/>
<text x="1002.2" y="741.1" font-size="3.2" text-anchor="middle" class="ts">2.20</text>
<text x="1002.2" y="744.1" font-size="3.2" text-anchor="middle" class="ts">0.90</text>
<text x="1011.7" y="742.5" font-size="3.2" text-anchor="middle" class="ts">1.00</text>
<line x1="1006.7" y1="725.5" x2="1006.7" y2="749.3" class="thin"/>
<line x1="973.2" y1="716.3" x2="1009.3" y2="716.3" class="thin"/>
<path d="M973.2,716.3 A36.1,36.1 0 0 0 1009.3,752.4" class="thin"/>
<circle cx="1315.8" cy="731.8" r="11.5"/>
<text x="1314.3" y="728.2" font-size="4" text-anchor="middle" class="ts">Θ</text>
<line x1="1305.8" y1="731" x2="1324.8" y2="731" class="thin"/>
<text x="1311.3" y="735.5" font-size="3.2" text-anchor="middle" class="ts">2.20</text>
<text x="1311.3" y="738.5" font-size="3.2" text-anchor="middle" class="ts">0.90</text>
<text x="1320.8" y="736.9" font-size="3.2" text-anchor="middle" class="ts">1.00</text>
<line x1="1315.8" y1="720.3" x2="1315.8" y2="743.3" class="thin"/>
<line x1="1312.8" y1="709.3" x2="1350" y2="709.3" class="thin"/>
<path d="M1350,709.3 A37.2,37.2 0 0 1 1312.8,746.5" class="thin"/>
<rect x="998.1" y="756.2" width="21.5" height="21.5" class="hw"/>
<rect x="1147" y="763.6" width="91.8" height="14.1" class="hw"/>
<rect x="1291.3" y="756.2" width="21.5" height="21.5" class="hw"/>
<line x1="1019.6" y1="767.3" x2="1147" y2="767.3"/>
<line x1="1019.6" y1="777.7" x2="1312.8" y2="777.7"/>
<line x1="1228.4" y1="763.6" x2="1228.4" y2="777.7"/>
<rect x="1020.4" y="780.6" width="17" height="13.4"/>
<rect x="1039.6" y="778" width="69.6" height="87.6"/>
<rect x="1112.2" y="780.6" width="17.8" height="13.4"/>
<rect x="1024.1" y="837.5" width="25.9" height="17" class="thin"/>
<text x="1035" y="842.4" font-size="4.2" text-anchor="middle" class="ts">Π</text>
<line x1="1026.1" y1="844.6" x2="1047" y2="844.6" class="thin"/>
<text x="1031.4" y="848.8" font-size="3.2" text-anchor="middle" class="ts">2.30</text>
<text x="1031.4" y="852.2" font-size="3.2" text-anchor="middle" class="ts">1.90</text>
<text x="1043.5" y="850.5" font-size="3.2" text-anchor="middle" class="ts">2.09</text>
<text x="1095.1" y="838.5" font-size="9.5" text-anchor="middle" class="t">δωματιο</text>
<rect x="1012" y="804.4" width="5.6" height="2.4" class="wc"/>
<rect x="1012" y="887.9" width="5.6" height="2.4" class="wc"/>
<rect x="1013.3" y="806.8" width="3" height="81.1" class="wb"/>
<line x1="1147" y1="777.7" x2="1147" y2="1084"/>
<line x1="1157.3" y1="777.7" x2="1157.3" y2="842"/>
<line x1="1147" y1="799.3" x2="1172.9" y2="799.3"/>
<line x1="1147" y1="821.5" x2="1172.9" y2="821.5"/>
<line x1="1147" y1="842.9" x2="1172.9" y2="842.9"/>
<line x1="1147" y1="864.4" x2="1172.9" y2="864.4"/>
<line x1="1147" y1="885.9" x2="1172.9" y2="885.9"/>
<line x1="1147" y1="907.4" x2="1172.9" y2="907.4"/>
<line x1="1147" y1="928.8" x2="1172.9" y2="928.8"/>
<rect x="1172.9" y="777.7" width="3.4" height="155.3"/>
<line x1="1176.6" y1="800.7" x2="1215.8" y2="800.7"/>
<line x1="1176.6" y1="821.5" x2="1215.8" y2="821.5"/>
<line x1="1176.6" y1="833.3" x2="1215.8" y2="833.3"/>
<line x1="1176.6" y1="845.2" x2="1215.8" y2="845.2"/>
<line x1="1176.6" y1="857.3" x2="1215.8" y2="857.3"/>
<line x1="1176.6" y1="869.6" x2="1215.8" y2="869.6"/>
<line x1="1176.6" y1="881.4" x2="1215.8" y2="881.4"/>
<line x1="1176.6" y1="893.3" x2="1215.8" y2="893.3"/>
<line x1="1176.6" y1="905.6" x2="1215.8" y2="905.6"/>
<line x1="1176.6" y1="917.4" x2="1215.8" y2="917.4"/>
<line x1="1176.6" y1="929.6" x2="1215.8" y2="929.6"/>
<line x1="1176.6" y1="942.1" x2="1215.8" y2="942.1"/>
<line x1="1215.8" y1="777.7" x2="1215.8" y2="942.1"/>
<line x1="1196.6" y1="800.7" x2="1196.6" y2="942.1"/>
<line x1="1176.6" y1="777.7" x2="1176.6" y2="942.1"/>
<line x1="1215.8" y1="820" x2="1176.6" y2="783"/>
<line x1="1215.8" y1="820" x2="1176.6" y2="803.7"/>
<line x1="1215.8" y1="820" x2="1201.6" y2="780"/>
<line x1="1215.8" y1="820" x2="1196.6" y2="800.7"/>
<polyline points="1176.6,929.6 1196.6,941.4 1215.8,929.6"/>
<text x="1191" y="798.3" font-size="6.5" text-anchor="middle" class="t">4</text>
<text x="1191" y="809.3" font-size="6.5" text-anchor="middle" class="t">5</text>
<text x="1191" y="819.3" font-size="6.5" text-anchor="middle" class="t">6</text>
<text x="1191" y="830.3" font-size="6.5" text-anchor="middle" class="t">7</text>
<text x="1191" y="841.9" font-size="6.5" text-anchor="middle" class="t">8</text>
<text x="1191" y="853.8" font-size="6.5" text-anchor="middle" class="t">9</text>
<text x="1191" y="865.8" font-size="6.5" text-anchor="middle" class="t">10</text>
<text x="1191" y="877" font-size="6.5" text-anchor="middle" class="t">11</text>
<text x="1191" y="888.6" font-size="6.5" text-anchor="middle" class="t">12</text>
<text x="1191" y="900.9" font-size="6.5" text-anchor="middle" class="t">13</text>
<text x="1191" y="912.1" font-size="6.5" text-anchor="middle" class="t">14</text>
<text x="1191" y="924.4" font-size="6.5" text-anchor="middle" class="t">15</text>
<text x="1191" y="937.3" font-size="6.5" text-anchor="middle" class="t">16</text>
<line x1="1176.6" y1="955.5" x2="1215.8" y2="955.5"/>
<line x1="1176.6" y1="952" x2="1176.6" y2="959" class="tk"/>
<path d="M1175,955.5 L1176.6,954.2 L1178.2,955.5 L1176.6,956.8Z" class="tkf"/>
<line x1="1215.8" y1="952" x2="1215.8" y2="959" class="tk"/>
<path d="M1214.2,955.5 L1215.8,954.2 L1217.4,955.5 L1215.8,956.8Z" class="tkf"/>
<text x="1195.8" y="952" font-size="10.8" text-anchor="middle" class="t">0.90</text>
<rect x="1219.5" y="782.2" width="82.2" height="120"/>
<line x1="1219.5" y1="820" x2="1301.7" y2="820"/>
<line x1="1235.8" y1="782.2" x2="1235.8" y2="820"/>
<line x1="1286.9" y1="782.2" x2="1286.9" y2="820"/>
<rect x="1219.5" y="827.4" width="8.9" height="21.5"/>
<ellipse cx="1240.3" cy="837.8" rx="9.6" ry="8.1"/>
<rect x="1282.5" y="847.4" width="18.5" height="22.2"/>
<rect x="1284.5" y="850" width="14.5" height="17"/>
<text x="1266.9" y="811.1" font-size="8.5" text-anchor="middle" class="t">μπανιο</text>
<text x="1261.7" y="822.1" font-size="10.8" text-anchor="middle" class="t">1.91</text>
<line x1="1219.5" y1="825.6" x2="1301.7" y2="825.6"/>
<line x1="1219.5" y1="822.1" x2="1219.5" y2="829.1" class="tk"/>
<path d="M1217.9,825.6 L1219.5,824.3 L1221.1,825.6 L1219.5,826.9Z" class="tkf"/>
<line x1="1301.7" y1="822.1" x2="1301.7" y2="829.1" class="tk"/>
<path d="M1300.1,825.6 L1301.7,824.3 L1303.3,825.6 L1301.7,826.9Z" class="tkf"/>
<text x="1228.4" y="863.9" font-size="10.8" text-anchor="middle" transform="rotate(-90 1228.4 860)" class="t">3.80</text>
<line x1="1235.8" y1="824.4" x2="1235.8" y2="942.1"/>
<line x1="1232.3" y1="824.4" x2="1239.3" y2="824.4" class="tk"/>
<path d="M1235.8,822.8 L1234.5,824.4 L1235.8,826 L1237.1,824.4Z" class="tkf"/>
<line x1="1232.3" y1="942.1" x2="1239.3" y2="942.1" class="tk"/>
<path d="M1235.8,940.5 L1234.5,942.1 L1235.8,943.7 L1237.1,942.1Z" class="tkf"/>
<text x="1287.6" y="844.6" font-size="10.8" text-anchor="middle" transform="rotate(-90 1287.6 840.7)" class="t">2.87</text>
<line x1="1281.7" y1="820" x2="1281.7" y2="902.2"/>
<line x1="1278.2" y1="820" x2="1285.2" y2="820" class="tk"/>
<path d="M1281.7,818.4 L1280.4,820 L1281.7,821.6 L1283,820Z" class="tkf"/>
<line x1="1278.2" y1="902.2" x2="1285.2" y2="902.2" class="tk"/>
<path d="M1281.7,900.6 L1280.4,902.2 L1281.7,903.8 L1283,902.2Z" class="tkf"/>
<path d="M1243.2,871.8 A31,31 0 0 1 1273.6,902.9" class="thin"/>
<line x1="1243.2" y1="871.8" x2="1243.2" y2="902.9"/>
<circle cx="1257.3" cy="895.5" r="11.1"/>
<text x="1255.8" y="891.9" font-size="4" text-anchor="middle" class="ts">Θ</text>
<line x1="1247.7" y1="894.7" x2="1265.9" y2="894.7" class="thin"/>
<text x="1252.8" y="899.2" font-size="3.2" text-anchor="middle" class="ts">2.20</text>
<text x="1252.8" y="902.2" font-size="3.2" text-anchor="middle" class="ts">2.00</text>
<text x="1262.3" y="900.6" font-size="3.2" text-anchor="middle" class="ts">0.80</text>
<line x1="1257.3" y1="884.4" x2="1257.3" y2="906.6" class="thin"/>
<line x1="1215.8" y1="905.9" x2="1312.8" y2="905.9"/>
<line x1="1299.5" y1="905.9" x2="1299.5" y2="1015"/>
<text x="1242.5" y="975.9" font-size="9.5" text-anchor="middle" class="t">εσωτερικος εξωστης</text>
<rect x="994.4" y="972.5" width="25.2" height="12.6" class="hw"/>
<line x1="1019.6" y1="974" x2="1142.2" y2="974"/>
<line x1="1019.6" y1="985.1" x2="1142.2" y2="985.1"/>
<rect x="1142.2" y="974.8" width="14.8" height="27.4" class="hw"/>
<rect x="1295.5" y="984.4" width="17" height="17" class="hw"/>
<line x1="1157.8" y1="991.3" x2="1263.6" y2="991.3"/>
<line x1="1157.8" y1="1002.5" x2="1263.6" y2="1002.5"/>
<line x1="1318.4" y1="991.3" x2="1424.8" y2="991.3"/>
<line x1="1318.4" y1="1002.5" x2="1424.8" y2="1002.5"/>
<line x1="1154" y1="1014.7" x2="1301.4" y2="1014.7"/>
<line x1="1154" y1="1017" x2="1301.4" y2="1017"/>
<line x1="1154" y1="1002.2" x2="1154" y2="1153"/>
<line x1="1008.8" y1="985.2" x2="1008.8" y2="1075.5"/>
<line x1="1019.9" y1="985.2" x2="1019.9" y2="1075.5"/>
<rect x="1008.8" y="1075.5" width="13.4" height="85.9" class="hw"/>
<rect x="1060.7" y="1021.5" width="41.4" height="86.6"/>
<rect x="1045" y="1051.1" width="16" height="24.4"/>
<ellipse cx="1046" cy="1063.3" rx="4.5" ry="11"/>
<line x1="1019.9" y1="1063.4" x2="1153.2" y2="1063.4"/>
<line x1="1019.9" y1="1059.9" x2="1019.9" y2="1066.9" class="tk"/>
<path d="M1018.3,1063.4 L1019.9,1062.1 L1021.5,1063.4 L1019.9,1064.7Z" class="tkf"/>
<line x1="1153.2" y1="1059.9" x2="1153.2" y2="1066.9" class="tk"/>
<path d="M1151.6,1063.4 L1153.2,1062.1 L1154.8,1063.4 L1153.2,1064.7Z" class="tkf"/>
<text x="1086.6" y="1060.4" font-size="10.8" text-anchor="middle" class="t">3.10</text>
<rect x="1075.5" y="1128.1" width="25.9" height="16.3" class="thin"/>
<text x="1086.4" y="1132.9" font-size="4.2" text-anchor="middle" class="ts">Π</text>
<line x1="1077.5" y1="1134.9" x2="1098.4" y2="1134.9" class="thin"/>
<text x="1082.8" y="1139" font-size="3.2" text-anchor="middle" class="ts">1.75</text>
<text x="1082.8" y="1142.3" font-size="3.2" text-anchor="middle" class="ts">0.95</text>
<text x="1094.9" y="1140.7" font-size="3.2" text-anchor="middle" class="ts">2.00</text>
<line x1="1147.3" y1="1002.2" x2="1147.3" y2="1035"/>
<line x1="1147.3" y1="1090" x2="1147.3" y2="1151"/>
<line x1="1153.2" y1="1002.2" x2="1153.2" y2="1151"/>
<line x1="1156.9" y1="1002.2" x2="1156.9" y2="1151"/>
<rect x="1145.1" y="1151" width="12.5" height="29.6" class="hw"/>
<line x1="1022.2" y1="1150.3" x2="1145.1" y2="1150.3"/>
<line x1="1022.2" y1="1161.4" x2="1145.1" y2="1161.4"/>
<rect x="1045.9" y="1153" width="2.4" height="5.6" class="wc"/>
<rect x="1129.3" y="1153" width="2.4" height="5.6" class="wc"/>
<rect x="1048.3" y="1154.3" width="81" height="3" class="wb"/>
<polyline points="1022.6,1161.5 1022.6,1180.3"/>
<polyline points="1025.5,1180.3 1025.5,1165.2 1045.5,1165.2 1045.5,1161.5"/>
<polyline points="1131.4,1161.5 1131.4,1165.2 1141.8,1165.2 1141.8,1180.3"/>
<line x1="1157.6" y1="1161.5" x2="1295.8" y2="1161.5"/>
<line x1="1312.5" y1="1161.4" x2="1424.3" y2="1161.4"/>
<line x1="1312.5" y1="1150.4" x2="1424.3" y2="1150.4"/>
<rect x="1295.2" y="1161.4" width="17.3" height="26.2"/>
<rect x="1295.2" y="1169.8" width="17.3" height="10.4" class="hw"/>
<line x1="1313" y1="1165.1" x2="1421.2" y2="1165.1" class="thin"/>
<line x1="1318" y1="1170.3" x2="1424.3" y2="1170.3" class="thin"/>
<line x1="1318" y1="1180.2" x2="1424.3" y2="1180.2"/>
<line x1="1421.2" y1="1165.1" x2="1421.2" y2="1244.5"/>
<line x1="1161" y1="1165.2" x2="1264" y2="1165.2" class="thin"/>
<line x1="1161" y1="1170.4" x2="1264" y2="1170.4" class="thin"/>
<line x1="1161" y1="1161.5" x2="1161" y2="1180.3"/>
<rect x="1009.3" y="1180.3" width="303.5" height="85.3"/>
<line x1="1009.3" y1="1187.4" x2="1312.8" y2="1187.4"/>
<path d="M1015.2,1187.4 V1258.5 H1016.8 V1187.4" class="sl"/>
<path d="M1021.6,1187.4 V1258.5 H1023.2 V1187.4" class="sl2"/>
<path d="M1028,1187.4 V1258.5 H1029.6 V1187.4" class="sl"/>
<path d="M1034.4,1187.4 V1258.5 H1036 V1187.4" class="sl2"/>
<path d="M1040.8,1187.4 V1258.5 H1042.4 V1187.4" class="sl"/>
<path d="M1047.2,1187.4 V1258.5 H1048.8 V1187.4" class="sl2"/>
<path d="M1053.6,1187.4 V1258.5 H1055.2 V1187.4" class="sl"/>
<path d="M1060,1187.4 V1258.5 H1061.6 V1187.4" class="sl2"/>
<path d="M1066.4,1187.4 V1258.5 H1068 V1187.4" class="sl"/>
<path d="M1072.8,1187.4 V1258.5 H1074.4 V1187.4" class="sl2"/>
<path d="M1079.2,1187.4 V1258.5 H1080.8 V1187.4" class="sl"/>
<path d="M1085.6,1187.4 V1258.5 H1087.2 V1187.4" class="sl2"/>
<path d="M1092,1187.4 V1258.5 H1093.6 V1187.4" class="sl"/>
<path d="M1098.4,1187.4 V1258.5 H1100 V1187.4" class="sl2"/>
<path d="M1104.8,1187.4 V1258.5 H1106.4 V1187.4" class="sl"/>
<path d="M1111.2,1187.4 V1258.5 H1112.8 V1187.4" class="sl2"/>
<path d="M1117.6,1187.4 V1258.5 H1119.2 V1187.4" class="sl"/>
<path d="M1124,1187.4 V1258.5 H1125.6 V1187.4" class="sl2"/>
<path d="M1130.4,1187.4 V1258.5 H1132 V1187.4" class="sl"/>
<path d="M1136.8,1187.4 V1258.5 H1138.4 V1187.4" class="sl2"/>
<path d="M1143.2,1187.4 V1258.5 H1144.8 V1187.4" class="sl"/>
<path d="M1149.6,1187.4 V1258.5 H1151.2 V1187.4" class="sl2"/>
<path d="M1156,1187.4 V1258.5 H1157.6 V1187.4" class="sl"/>
<path d="M1162.4,1187.4 V1258.5 H1164 V1187.4" class="sl2"/>
<path d="M1168.8,1187.4 V1258.5 H1170.4 V1187.4" class="sl"/>
<path d="M1175.2,1187.4 V1258.5 H1176.8 V1187.4" class="sl2"/>
<path d="M1181.6,1187.4 V1258.5 H1183.2 V1187.4" class="sl"/>
<path d="M1188,1187.4 V1258.5 H1189.6 V1187.4" class="sl2"/>
<path d="M1194.4,1187.4 V1258.5 H1196 V1187.4" class="sl"/>
<path d="M1200.8,1187.4 V1258.5 H1202.4 V1187.4" class="sl2"/>
<path d="M1207.2,1187.4 V1258.5 H1208.8 V1187.4" class="sl"/>
<path d="M1213.6,1187.4 V1258.5 H1215.2 V1187.4" class="sl2"/>
<path d="M1220,1187.4 V1258.5 H1221.6 V1187.4" class="sl"/>
<path d="M1226.4,1187.4 V1258.5 H1228 V1187.4" class="sl2"/>
<path d="M1232.8,1187.4 V1258.5 H1234.4 V1187.4" class="sl"/>
<path d="M1239.2,1187.4 V1258.5 H1240.8 V1187.4" class="sl2"/>
<path d="M1245.6,1187.4 V1258.5 H1247.2 V1187.4" class="sl"/>
<path d="M1252,1187.4 V1258.5 H1253.6 V1187.4" class="sl2"/>
<path d="M1258.4,1187.4 V1258.5 H1260 V1187.4" class="sl"/>
<path d="M1264.8,1187.4 V1258.5 H1266.4 V1187.4" class="sl2"/>
<path d="M1271.2,1187.4 V1258.5 H1272.8 V1187.4" class="sl"/>
<path d="M1277.6,1187.4 V1258.5 H1279.2 V1187.4" class="sl2"/>
<path d="M1284,1187.4 V1258.5 H1285.6 V1187.4" class="sl"/>
<path d="M1290.4,1187.4 V1258.5 H1292 V1187.4" class="sl2"/>
<path d="M1296.8,1187.4 V1258.5 H1298.4 V1187.4" class="sl"/>
<path d="M1303.2,1187.4 V1258.5 H1304.8 V1187.4" class="sl2"/>
<line x1="1008.8" y1="1161.4" x2="1008.8" y2="1180.3"/>
<line x1="1154" y1="1017" x2="1424" y2="1150"/>
<line x1="1424" y1="1017" x2="1154" y2="1150"/>
<line x1="1156.9" y1="1122.9" x2="1424" y2="1122.9"/>
<text x="1290" y="1119.4" font-size="10.8" text-anchor="middle" class="t">6.19</text>
<line x1="1219.1" y1="1016.3" x2="1219.1" y2="1151"/>
<line x1="1215.6" y1="1016.3" x2="1222.6" y2="1016.3" class="tk"/>
<path d="M1219.1,1014.7 L1217.8,1016.3 L1219.1,1017.9 L1220.4,1016.3Z" class="tkf"/>
<line x1="1215.6" y1="1151" x2="1222.6" y2="1151" class="tk"/>
<path d="M1219.1,1149.4 L1217.8,1151 L1219.1,1152.6 L1220.4,1151Z" class="tkf"/>
<text x="1211" y="1087.5" font-size="10.8" text-anchor="middle" transform="rotate(-90 1211 1083.6)" class="t">3.10</text>
<line x1="1156.9" y1="1150.3" x2="1424.8" y2="1150.3"/>
<line x1="1312.5" y1="872.6" x2="1424.3" y2="872.6"/>
<line x1="1313" y1="873" x2="1422" y2="1016"/>
<line x1="1424" y1="873" x2="1304" y2="1015.5"/>
<line x1="1375" y1="872.6" x2="1375" y2="1017.7"/>
<line x1="1371.5" y1="872.6" x2="1378.5" y2="872.6" class="tk"/>
<path d="M1375,871 L1373.7,872.6 L1375,874.2 L1376.3,872.6Z" class="tkf"/>
<line x1="1371.5" y1="1017.7" x2="1378.5" y2="1017.7" class="tk"/>
<path d="M1375,1016.1 L1373.7,1017.7 L1375,1019.3 L1376.3,1017.7Z" class="tkf"/>
<text x="1368" y="949" font-size="10.8" text-anchor="middle" transform="rotate(-90 1368 945.1)" class="t">3.35</text>
<line x1="1301.4" y1="972.5" x2="1424.3" y2="972.5"/>
<line x1="1301.4" y1="969" x2="1301.4" y2="976" class="tk"/>
<path d="M1299.8,972.5 L1301.4,971.2 L1303,972.5 L1301.4,973.8Z" class="tkf"/>
<line x1="1424.3" y1="969" x2="1424.3" y2="976" class="tk"/>
<path d="M1422.7,972.5 L1424.3,971.2 L1425.9,972.5 L1424.3,973.8Z" class="tkf"/>
<text x="1362.9" y="969.3" font-size="10.8" text-anchor="middle" class="t">2.85</text>
<line x1="1312" y1="625.7" x2="1424.2" y2="625.7"/>
<line x1="1312" y1="630.1" x2="1424.2" y2="630.1"/>
<line x1="1316" y1="680.2" x2="1424.2" y2="680.2"/>
<line x1="1312" y1="683.2" x2="1424.2" y2="683.2"/>
<line x1="1312" y1="694.2" x2="1424.2" y2="694.2"/>
<rect x="1300" y="597" width="12" height="97.2" class="hw"/>
<text x="1388.2" y="621.4" font-size="6.5" text-anchor="middle" class="t">ξύλινες περσίδες</text>
<line x1="1377.1" y1="625.7" x2="1377.1" y2="640"/>
<line x1="1398.2" y1="625.7" x2="1398.2" y2="861.5"/>
<line x1="1394.7" y1="625.7" x2="1401.7" y2="625.7" class="tk"/>
<path d="M1398.2,624.1 L1396.9,625.7 L1398.2,627.3 L1399.5,625.7Z" class="tkf"/>
<line x1="1394.7" y1="683.2" x2="1401.7" y2="683.2" class="tk"/>
<path d="M1398.2,681.6 L1396.9,683.2 L1398.2,684.8 L1399.5,683.2Z" class="tkf"/>
<line x1="1394.7" y1="694.2" x2="1401.7" y2="694.2" class="tk"/>
<path d="M1398.2,692.6 L1396.9,694.2 L1398.2,695.8 L1399.5,694.2Z" class="tkf"/>
<line x1="1394.7" y1="744.3" x2="1401.7" y2="744.3" class="tk"/>
<path d="M1398.2,742.7 L1396.9,744.3 L1398.2,745.9 L1399.5,744.3Z" class="tkf"/>
<line x1="1394.7" y1="813" x2="1401.7" y2="813" class="tk"/>
<path d="M1398.2,811.4 L1396.9,813 L1398.2,814.6 L1399.5,813Z" class="tkf"/>
<line x1="1394.7" y1="861.5" x2="1401.7" y2="861.5" class="tk"/>
<path d="M1398.2,859.9 L1396.9,861.5 L1398.2,863.1 L1399.5,861.5Z" class="tkf"/>
<text x="1391.2" y="658" font-size="10.8" text-anchor="middle" transform="rotate(-90 1391.2 654.1)" class="t">1.35</text>
<text x="1391.2" y="692.4" font-size="10.8" text-anchor="middle" transform="rotate(-90 1391.2 688.5)" class="t">0.25</text>
<text x="1391.2" y="723.2" font-size="10.8" text-anchor="middle" transform="rotate(-90 1391.2 719.3)" class="t">1.16</text>
<text x="1391.2" y="783.3" font-size="10.8" text-anchor="middle" transform="rotate(-90 1391.2 779.4)" class="t">1.60</text>
<text x="1391.2" y="841.4" font-size="10.8" text-anchor="middle" transform="rotate(-90 1391.2 837.5)" class="t">1.12</text>
<line x1="1312" y1="797.4" x2="1424.2" y2="797.4"/>
<line x1="1312" y1="793.9" x2="1312" y2="800.9" class="tk"/>
<path d="M1310.4,797.4 L1312,796.1 L1313.6,797.4 L1312,798.7Z" class="tkf"/>
<line x1="1424.2" y1="793.9" x2="1424.2" y2="800.9" class="tk"/>
<path d="M1422.6,797.4 L1424.2,796.1 L1425.8,797.4 L1424.2,798.7Z" class="tkf"/>
<text x="1368.1" y="794.3" font-size="10.8" text-anchor="middle" class="t">2.60</text>
<line x1="1312" y1="861.5" x2="1424.2" y2="861.5"/>
<text x="1600.5" y="611.6" font-size="18.5" text-anchor="middle" transform="rotate(-15 1600.5 605)" class="t">Γ</text>
<polyline points="1424.2,1221 1424.2,619.1 1751.8,619.1 1751.8,683.2"/>
<polyline points="1435.2,683.2 1435.2,625.7 1745.8,625.7 1745.8,680.2"/>
<line x1="1461.3" y1="625.7" x2="1461.3" y2="683.2"/>
<line x1="1467.3" y1="625.7" x2="1467.3" y2="683.2"/>
<line x1="1493.7" y1="625.7" x2="1493.7" y2="683.2"/>
<line x1="1499.7" y1="625.7" x2="1499.7" y2="683.2"/>
<line x1="1526.1" y1="625.7" x2="1526.1" y2="683.2"/>
<line x1="1532.1" y1="625.7" x2="1532.1" y2="683.2"/>
<line x1="1558.5" y1="625.7" x2="1558.5" y2="683.2"/>
<line x1="1564.5" y1="625.7" x2="1564.5" y2="683.2"/>
<line x1="1590.9" y1="625.7" x2="1590.9" y2="683.2"/>
<line x1="1596.9" y1="625.7" x2="1596.9" y2="683.2"/>
<line x1="1623.3" y1="625.7" x2="1623.3" y2="683.2"/>
<line x1="1629.3" y1="625.7" x2="1629.3" y2="683.2"/>
<line x1="1655.7" y1="625.7" x2="1655.7" y2="683.2"/>
<line x1="1661.7" y1="625.7" x2="1661.7" y2="683.2"/>
<line x1="1688.1" y1="625.7" x2="1688.1" y2="683.2"/>
<line x1="1694.1" y1="625.7" x2="1694.1" y2="683.2"/>
<line x1="1720.5" y1="625.7" x2="1720.5" y2="683.2"/>
<line x1="1726.5" y1="625.7" x2="1726.5" y2="683.2"/>
<line x1="1424.2" y1="680.2" x2="1478.3" y2="680.2"/>
<line x1="1555.5" y1="680.2" x2="1605.6" y2="680.2"/>
<line x1="1682.7" y1="680.2" x2="1751.8" y2="680.2"/>
<line x1="1424.2" y1="683.2" x2="1751.8" y2="683.2"/>
<line x1="1435.2" y1="694.2" x2="1717.7" y2="694.2"/>
<rect x="1424.2" y="683.2" width="54.1" height="11" class="hw"/>
<rect x="1702.7" y="683.2" width="25.1" height="11" class="hw"/>
<rect x="1717.7" y="694.2" width="10.1" height="15" class="hw"/>
<rect x="1478.3" y="685.9" width="2.4" height="5.6" class="wc"/>
<rect x="1553.1" y="685.9" width="2.4" height="5.6" class="wc"/>
<rect x="1480.7" y="687.2" width="72.4" height="3" class="wb"/>
<rect x="1605.6" y="685.9" width="2.4" height="5.6" class="wc"/>
<rect x="1680.3" y="685.9" width="2.4" height="5.6" class="wc"/>
<rect x="1608" y="687.2" width="72.3" height="3" class="wb"/>
<line x1="1717.7" y1="709.2" x2="1717.7" y2="991.5"/>
<line x1="1728.1" y1="709.2" x2="1728.1" y2="991.5"/>
<line x1="1731.8" y1="683.2" x2="1731.8" y2="1225.3"/>
<rect x="1717.7" y="807.4" width="10.1" height="27.1" class="hw"/>
<rect x="1719.8" y="735.3" width="5.6" height="2.4" class="wc"/>
<rect x="1719.8" y="802" width="5.6" height="2.4" class="wc"/>
<rect x="1721.1" y="737.7" width="3" height="64.3" class="wb"/>
<rect x="1720.1" y="917.8" width="5.6" height="2.4" class="wc"/>
<rect x="1720.1" y="982.8" width="5.6" height="2.4" class="wc"/>
<rect x="1721.4" y="920.2" width="3" height="62.6" class="wb"/>
<rect x="1717.8" y="991.5" width="10.4" height="108.1" class="hw"/>
<rect x="1717.8" y="1196.5" width="10.4" height="24.8" class="hw"/>
<line x1="1717.8" y1="1099.6" x2="1717.8" y2="1196.5"/>
<line x1="1728.2" y1="1099.6" x2="1728.2" y2="1196.5"/>
<line x1="1435.2" y1="694.2" x2="1435.2" y2="817.4"/>
<line x1="1461.3" y1="694.2" x2="1461.3" y2="817.4"/>
<line x1="1435.2" y1="715.2" x2="1461.3" y2="715.2"/>
<line x1="1435.2" y1="737.3" x2="1461.3" y2="737.3"/>
<line x1="1435.2" y1="758.3" x2="1461.3" y2="758.3"/>
<line x1="1435.2" y1="817.4" x2="1479.3" y2="817.4"/>
<rect x="1426.9" y="744.3" width="5.6" height="2.4" class="wc"/>
<rect x="1426.9" y="810" width="5.6" height="2.4" class="wc"/>
<rect x="1428.2" y="746.7" width="3" height="63.3" class="wb"/>
<rect x="1437.2" y="761.3" width="26.1" height="17.1" class="thin"/>
<text x="1448.2" y="766.2" font-size="4.2" text-anchor="middle" class="ts">Π</text>
<line x1="1439.2" y1="768.5" x2="1460.3" y2="768.5" class="thin"/>
<text x="1444.5" y="772.7" font-size="3.2" text-anchor="middle" class="ts">2.30</text>
<text x="1444.5" y="776.1" font-size="3.2" text-anchor="middle" class="ts">1.90</text>
<text x="1456.8" y="774.4" font-size="3.2" text-anchor="middle" class="ts">1.60</text>
<rect x="1503.4" y="699.8" width="26" height="16.4" class="thin"/>
<text x="1514.3" y="704.6" font-size="4.2" text-anchor="middle" class="ts">Π</text>
<line x1="1505.4" y1="706.7" x2="1526.4" y2="706.7" class="thin"/>
<text x="1510.7" y="710.8" font-size="3.2" text-anchor="middle" class="ts">2.20</text>
<text x="1510.7" y="714.1" font-size="3.2" text-anchor="middle" class="ts">1.60</text>
<text x="1522.9" y="712.4" font-size="3.2" text-anchor="middle" class="ts">1.80</text>
<rect x="1629.6" y="699.8" width="26" height="16.4" class="thin"/>
<text x="1640.5" y="704.6" font-size="4.2" text-anchor="middle" class="ts">Π</text>
<line x1="1631.6" y1="706.7" x2="1652.6" y2="706.7" class="thin"/>
<text x="1636.9" y="710.8" font-size="3.2" text-anchor="middle" class="ts">2.20</text>
<text x="1636.9" y="714.1" font-size="3.2" text-anchor="middle" class="ts">1.60</text>
<text x="1649.1" y="712.4" font-size="3.2" text-anchor="middle" class="ts">1.80</text>
<rect x="1551.5" y="702.2" width="45" height="43.1"/>
<rect x="1556.5" y="708" width="35" height="37.3"/>
<line x1="1435.2" y1="737.3" x2="1717.7" y2="737.3"/>
<line x1="1435.2" y1="733.8" x2="1435.2" y2="740.8" class="tk"/>
<path d="M1433.6,737.3 L1435.2,736 L1436.8,737.3 L1435.2,738.6Z" class="tkf"/>
<line x1="1717.7" y1="733.8" x2="1717.7" y2="740.8" class="tk"/>
<path d="M1716.1,737.3 L1717.7,736 L1719.3,737.3 L1717.7,738.6Z" class="tkf"/>
<text x="1576.5" y="734.6" font-size="10.8" text-anchor="middle" class="t">6.55</text>
<line x1="1525.4" y1="722.3" x2="1717.7" y2="722.3"/>
<line x1="1728" y1="722.3" x2="1760" y2="722.3"/>
<rect x="1629.6" y="739.3" width="86.2" height="69.1"/>
<rect x="1685.7" y="763.3" width="26" height="16.1" class="thin"/>
<text x="1696.6" y="768" font-size="4.2" text-anchor="middle" class="ts">Π</text>
<line x1="1687.7" y1="770.1" x2="1708.7" y2="770.1" class="thin"/>
<text x="1693" y="774.1" font-size="3.2" text-anchor="middle" class="ts">1.75</text>
<text x="1693" y="777.3" font-size="3.2" text-anchor="middle" class="ts">1.65</text>
<text x="1705.2" y="775.7" font-size="3.2" text-anchor="middle" class="ts">1.80</text>
<rect x="1700.3" y="719.3" width="14" height="18"/>
<rect x="1700.3" y="812.4" width="14" height="18.1"/>
<line x1="1674.3" y1="694" x2="1674.3" y2="1008.7"/>
<line x1="1670.8" y1="694" x2="1677.8" y2="694" class="tk"/>
<path d="M1674.3,692.4 L1673,694 L1674.3,695.6 L1675.6,694Z" class="tkf"/>
<line x1="1670.8" y1="1008.7" x2="1677.8" y2="1008.7" class="tk"/>
<path d="M1674.3,1007.1 L1673,1008.7 L1674.3,1010.3 L1675.6,1008.7Z" class="tkf"/>
<text x="1667.7" y="855.4" font-size="10.8" text-anchor="middle" transform="rotate(-90 1667.7 851.5)" class="t">7.30</text>
<line x1="1484.3" y1="694.2" x2="1484.3" y2="842.5"/>
<line x1="1480.8" y1="694.2" x2="1487.8" y2="694.2" class="tk"/>
<path d="M1484.3,692.6 L1483,694.2 L1484.3,695.8 L1485.6,694.2Z" class="tkf"/>
<line x1="1480.8" y1="842.5" x2="1487.8" y2="842.5" class="tk"/>
<path d="M1484.3,840.9 L1483,842.5 L1484.3,844.1 L1485.6,842.5Z" class="tkf"/>
<text x="1478.3" y="772.2" font-size="10.8" text-anchor="middle" transform="rotate(-90 1478.3 768.3)" class="t">3.44</text>
<rect x="1479.3" y="817.4" width="64.1" height="25.1"/>
<line x1="1500.4" y1="817.4" x2="1500.4" y2="842.5"/>
<line x1="1522.4" y1="817.4" x2="1522.4" y2="842.5"/>
<rect x="1474.5" y="842.5" width="78.4" height="116.9"/>
<rect x="1479.2" y="847.2" width="69" height="107.4"/>
<line x1="1479.2" y1="875.5" x2="1548.2" y2="875.5"/>
<text x="1513.7" y="858.7" font-size="10.8" text-anchor="middle" class="t">1.59</text>
<line x1="1479.2" y1="862.1" x2="1548.2" y2="862.1"/>
<line x1="1479.2" y1="858.6" x2="1479.2" y2="865.6" class="tk"/>
<path d="M1477.6,862.1 L1479.2,860.8 L1480.8,862.1 L1479.2,863.4Z" class="tkf"/>
<line x1="1548.2" y1="858.6" x2="1548.2" y2="865.6" class="tk"/>
<path d="M1546.6,862.1 L1548.2,860.8 L1549.8,862.1 L1548.2,863.4Z" class="tkf"/>
<ellipse cx="1527.8" cy="887.7" rx="9.4" ry="7.8"/>
<rect x="1539.5" y="877.8" width="8.7" height="20.4"/>
<rect x="1481.5" y="914.7" width="16.5" height="21.9"/>
<rect x="1483.5" y="917" width="12.5" height="17.5"/>
<text x="1523.9" y="908.6" font-size="8.5" text-anchor="middle" class="t">μπανιο</text>
<text x="1501.1" y="905.2" font-size="10.8" text-anchor="middle" transform="rotate(-90 1501.1 901.3)" class="t">2.50</text>
<line x1="1499.6" y1="875.5" x2="1499.6" y2="954.6"/>
<text x="1484.7" y="910.7" font-size="10.8" text-anchor="middle" transform="rotate(-90 1484.7 906.8)" class="t">3.95</text>
<path d="M1517.6,943.7 A33,33 0 0 1 1550.5,910.7" class="thin"/>
<line x1="1517.6" y1="943.7" x2="1550.5" y2="943.7" class="thin"/>
<circle cx="1541.9" cy="929.6" r="11.8"/>
<text x="1540.4" y="926" font-size="4" text-anchor="middle" class="ts">Θ</text>
<line x1="1531.6" y1="928.8" x2="1551.2" y2="928.8" class="thin"/>
<text x="1537.4" y="933.3" font-size="3.2" text-anchor="middle" class="ts">2.20</text>
<text x="1537.4" y="936.3" font-size="3.2" text-anchor="middle" class="ts">2.00</text>
<text x="1546.9" y="934.7" font-size="3.2" text-anchor="middle" class="ts">0.80</text>
<line x1="1541.9" y1="917.8" x2="1541.9" y2="941.4" class="thin"/>
<line x1="1491.3" y1="821.5" x2="1491.3" y2="991.5"/>
<line x1="1487.8" y1="821.5" x2="1494.8" y2="821.5" class="tk"/>
<path d="M1491.3,819.9 L1490,821.5 L1491.3,823.1 L1492.6,821.5Z" class="tkf"/>
<line x1="1487.8" y1="991.5" x2="1494.8" y2="991.5" class="tk"/>
<path d="M1491.3,989.9 L1490,991.5 L1491.3,993.1 L1492.6,991.5Z" class="tkf"/>
<line x1="1508.2" y1="845" x2="1508.2" y2="1211.2"/>
<text x="1501.1" y="986" font-size="10.8" text-anchor="middle" transform="rotate(-90 1501.1 982.1)" class="t">1.06</text>
<text x="1637.5" y="967.9" font-size="9.5" text-anchor="middle" class="t">εσωτερικος εξωστης</text>
<rect x="1627.3" y="872.3" width="40.8" height="87.1"/>
<rect x="1668" y="905.3" width="16" height="24.3"/>
<ellipse cx="1682" cy="917.5" rx="5" ry="11"/>
<rect x="1685.4" y="937.4" width="25.8" height="17.2" class="thin"/>
<text x="1696.2" y="942.3" font-size="4.2" text-anchor="middle" class="ts">Π</text>
<line x1="1687.4" y1="944.6" x2="1708.2" y2="944.6" class="thin"/>
<text x="1692.6" y="948.9" font-size="3.2" text-anchor="middle" class="ts">1.75</text>
<text x="1692.6" y="952.3" font-size="3.2" text-anchor="middle" class="ts">1.65</text>
<text x="1704.8" y="950.6" font-size="3.2" text-anchor="middle" class="ts">2.08</text>
<line x1="1435.7" y1="861.4" x2="1474.5" y2="861.4"/>
<line x1="1435.7" y1="873.6" x2="1474.5" y2="873.6"/>
<line x1="1435.7" y1="885.7" x2="1474.5" y2="885.7"/>
<line x1="1435.7" y1="897.7" x2="1474.5" y2="897.7"/>
<line x1="1435.7" y1="910" x2="1474.5" y2="910"/>
<line x1="1435.7" y1="922" x2="1474.5" y2="922"/>
<line x1="1435.7" y1="933.8" x2="1474.5" y2="933.8"/>
<line x1="1435.7" y1="945.7" x2="1474.5" y2="945.7"/>
<line x1="1435.7" y1="957.8" x2="1474.5" y2="957.8"/>
<line x1="1454.6" y1="842.5" x2="1454.6" y2="973.9"/>
<line x1="1474.5" y1="842.5" x2="1474.5" y2="973.9"/>
<rect x="1435.7" y="842.5" width="18.9" height="18.9"/>
<line x1="1435.7" y1="861.4" x2="1454.6" y2="842.5"/>
<rect x="1435.4" y="821.5" width="39.4" height="21"/>
<line x1="1474.8" y1="822" x2="1454.6" y2="842.5"/>
<text x="1448.6" y="869.8" font-size="6.5" text-anchor="middle" class="t">6</text>
<text x="1448.6" y="881.9" font-size="6.5" text-anchor="middle" class="t">7</text>
<text x="1448.6" y="894" font-size="6.5" text-anchor="middle" class="t">8</text>
<text x="1448.6" y="906.1" font-size="6.5" text-anchor="middle" class="t">9</text>
<text x="1448.6" y="918.3" font-size="6.5" text-anchor="middle" class="t">10</text>
<text x="1448.6" y="930.3" font-size="6.5" text-anchor="middle" class="t">11</text>
<text x="1448.6" y="942.1" font-size="6.5" text-anchor="middle" class="t">12</text>
<text x="1448.6" y="954.1" font-size="6.5" text-anchor="middle" class="t">13</text>
<text x="1441.4" y="849.2" font-size="6.5" text-anchor="middle" class="t">4</text>
<text x="1448.6" y="858.5" font-size="6.5" text-anchor="middle" class="t">5</text>
<text x="1448.6" y="965.3" font-size="6.5" text-anchor="middle" class="t">14</text>
<text x="1453" y="982.5" font-size="6.5" text-anchor="middle" class="t">15</text>
<text x="1469.5" y="982.5" font-size="6.5" text-anchor="middle" class="t">16</text>
<line x1="1474.5" y1="957.8" x2="1435.7" y2="973.5"/>
<line x1="1474.5" y1="957.8" x2="1451.7" y2="991.2"/>
<rect x="1454.6" y="957.8" width="19.9" height="16.1"/>
<polyline points="1474.5,968 1477.5,971.5 1474.5,975"/>
<line x1="1424.8" y1="694.2" x2="1424.8" y2="1221.3"/>
<line x1="1435.7" y1="817.4" x2="1435.7" y2="1221.3"/>
<rect x="1424.8" y="991.5" width="10.9" height="88.5" class="hw"/>
<rect x="1424.8" y="1150.8" width="12.8" height="70.5" class="hw"/>
<line x1="1435.7" y1="991.2" x2="1549.7" y2="991.2"/>
<line x1="1603.8" y1="991.2" x2="1718.3" y2="991.2"/>
<line x1="1435.7" y1="1002.5" x2="1549.7" y2="1002.5"/>
<line x1="1603.8" y1="1002.5" x2="1718.3" y2="1002.5"/>
<line x1="1435.7" y1="1004" x2="1718.3" y2="1004"/>
<line x1="1435.7" y1="1008.7" x2="1718.3" y2="1008.7"/>
<line x1="1435.7" y1="1009.5" x2="1717.8" y2="1211.7"/>
<line x1="1717.8" y1="1009.5" x2="1435.7" y2="1211.7"/>
<line x1="1435.2" y1="1077.7" x2="1717.8" y2="1077.7"/>
<line x1="1435.2" y1="1074.2" x2="1435.2" y2="1081.2" class="tk"/>
<path d="M1433.6,1077.7 L1435.2,1076.4 L1436.8,1077.7 L1435.2,1079Z" class="tkf"/>
<line x1="1717.8" y1="1074.2" x2="1717.8" y2="1081.2" class="tk"/>
<path d="M1716.2,1077.7 L1717.8,1076.4 L1719.4,1077.7 L1717.8,1079Z" class="tkf"/>
<text x="1576.4" y="1074.6" font-size="10.8" text-anchor="middle" class="t">6.55</text>
<line x1="1508.4" y1="1077.7" x2="1508.4" y2="1211.2"/>
<line x1="1504.9" y1="1077.7" x2="1511.9" y2="1077.7" class="tk"/>
<path d="M1508.4,1076.1 L1507.1,1077.7 L1508.4,1079.3 L1509.7,1077.7Z" class="tkf"/>
<line x1="1504.9" y1="1211.2" x2="1511.9" y2="1211.2" class="tk"/>
<path d="M1508.4,1209.6 L1507.1,1211.2 L1508.4,1212.8 L1509.7,1211.2Z" class="tkf"/>
<text x="1500.8" y="1113.9" font-size="10.8" text-anchor="middle" transform="rotate(-90 1500.8 1110)" class="t">4.70</text>
<line x1="1436.5" y1="1211.7" x2="1717.8" y2="1211.7"/>
<line x1="1424.8" y1="1221.3" x2="1728.2" y2="1221.3"/>
<rect x="1461.3" y="1222.1" width="266.9" height="99.2"/>
<rect x="1467.2" y="1228.5" width="254.6" height="86.4"/>
<line x1="1515.3" y1="1232.5" x2="1721.8" y2="1232.5"/>
<line x1="1471" y1="1228.5" x2="1471" y2="1314.9" class="gb"/>
<line x1="1476.5" y1="1228.5" x2="1476.5" y2="1314.9" class="gl"/>
<line x1="1478.5" y1="1228.5" x2="1478.5" y2="1314.9" class="gl"/>
<line x1="1484" y1="1228.5" x2="1484" y2="1314.9" class="gb"/>
<line x1="1489.5" y1="1228.5" x2="1489.5" y2="1314.9" class="gl"/>
<line x1="1491.5" y1="1228.5" x2="1491.5" y2="1314.9" class="gl"/>
<line x1="1497" y1="1228.5" x2="1497" y2="1314.9" class="gb"/>
<line x1="1502.5" y1="1228.5" x2="1502.5" y2="1314.9" class="gl"/>
<line x1="1504.5" y1="1228.5" x2="1504.5" y2="1314.9" class="gl"/>
<line x1="1510" y1="1228.5" x2="1510" y2="1314.9" class="gb"/>
<line x1="1515.5" y1="1228.5" x2="1515.5" y2="1314.9" class="gl"/>
<line x1="1517.5" y1="1228.5" x2="1517.5" y2="1314.9" class="gl"/>
<line x1="1523" y1="1228.5" x2="1523" y2="1314.9" class="gb"/>
<line x1="1528.5" y1="1228.5" x2="1528.5" y2="1314.9" class="gl"/>
<line x1="1530.5" y1="1228.5" x2="1530.5" y2="1314.9" class="gl"/>
<line x1="1536" y1="1228.5" x2="1536" y2="1314.9" class="gb"/>
<line x1="1541.5" y1="1228.5" x2="1541.5" y2="1314.9" class="gl"/>
<line x1="1543.5" y1="1228.5" x2="1543.5" y2="1314.9" class="gl"/>
<line x1="1549" y1="1228.5" x2="1549" y2="1314.9" class="gb"/>
<line x1="1554.5" y1="1228.5" x2="1554.5" y2="1314.9" class="gl"/>
<line x1="1556.5" y1="1228.5" x2="1556.5" y2="1314.9" class="gl"/>
<line x1="1562" y1="1228.5" x2="1562" y2="1314.9" class="gb"/>
<line x1="1567.5" y1="1228.5" x2="1567.5" y2="1314.9" class="gl"/>
<line x1="1569.5" y1="1228.5" x2="1569.5" y2="1314.9" class="gl"/>
<line x1="1575" y1="1228.5" x2="1575" y2="1314.9" class="gb"/>
<line x1="1580.5" y1="1228.5" x2="1580.5" y2="1314.9" class="gl"/>
<line x1="1582.5" y1="1228.5" x2="1582.5" y2="1314.9" class="gl"/>
<line x1="1588" y1="1228.5" x2="1588" y2="1314.9" class="gb"/>
<line x1="1593.5" y1="1228.5" x2="1593.5" y2="1314.9" class="gl"/>
<line x1="1595.5" y1="1228.5" x2="1595.5" y2="1314.9" class="gl"/>
<line x1="1601" y1="1228.5" x2="1601" y2="1314.9" class="gb"/>
<line x1="1606.5" y1="1228.5" x2="1606.5" y2="1314.9" class="gl"/>
<line x1="1608.5" y1="1228.5" x2="1608.5" y2="1314.9" class="gl"/>
<line x1="1614" y1="1228.5" x2="1614" y2="1314.9" class="gb"/>
<line x1="1619.5" y1="1228.5" x2="1619.5" y2="1314.9" class="gl"/>
<line x1="1621.5" y1="1228.5" x2="1621.5" y2="1314.9" class="gl"/>
<line x1="1627" y1="1228.5" x2="1627" y2="1314.9" class="gb"/>
<line x1="1632.5" y1="1228.5" x2="1632.5" y2="1314.9" class="gl"/>
<line x1="1634.5" y1="1228.5" x2="1634.5" y2="1314.9" class="gl"/>
<line x1="1640" y1="1228.5" x2="1640" y2="1314.9" class="gb"/>
<line x1="1645.5" y1="1228.5" x2="1645.5" y2="1314.9" class="gl"/>
<line x1="1647.5" y1="1228.5" x2="1647.5" y2="1314.9" class="gl"/>
<line x1="1653" y1="1228.5" x2="1653" y2="1314.9" class="gb"/>
<line x1="1658.5" y1="1228.5" x2="1658.5" y2="1314.9" class="gl"/>
<line x1="1660.5" y1="1228.5" x2="1660.5" y2="1314.9" class="gl"/>
<line x1="1666" y1="1228.5" x2="1666" y2="1314.9" class="gb"/>
<line x1="1671.5" y1="1228.5" x2="1671.5" y2="1314.9" class="gl"/>
<line x1="1673.5" y1="1228.5" x2="1673.5" y2="1314.9" class="gl"/>
<line x1="1679" y1="1228.5" x2="1679" y2="1314.9" class="gb"/>
<line x1="1684.5" y1="1228.5" x2="1684.5" y2="1314.9" class="gl"/>
<line x1="1686.5" y1="1228.5" x2="1686.5" y2="1314.9" class="gl"/>
<line x1="1692" y1="1228.5" x2="1692" y2="1314.9" class="gb"/>
<line x1="1697.5" y1="1228.5" x2="1697.5" y2="1314.9" class="gl"/>
<line x1="1699.5" y1="1228.5" x2="1699.5" y2="1314.9" class="gl"/>
<line x1="1705" y1="1228.5" x2="1705" y2="1314.9" class="gb"/>
<line x1="1710.5" y1="1228.5" x2="1710.5" y2="1314.9" class="gl"/>
<line x1="1712.5" y1="1228.5" x2="1712.5" y2="1314.9" class="gl"/>
<line x1="1718" y1="1228.5" x2="1718" y2="1314.9" class="gb"/>
<polyline points="1420.8,1221.3 1420.8,1281.3 1440.8,1281.3 1440.8,1262.1 1461.3,1262.1"/>
<polyline points="1461.3,1225.3 1440.8,1225.3 1440.8,1244.5 1420.8,1244.5"/>
<rect x="1424" y="1221.3" width="13.6" height="20"/>
<line x1="1732.2" y1="1099" x2="1732.2" y2="1225.3"/>
<line x1="1732.2" y1="1211.7" x2="1760" y2="1211.7"/>
<line x1="1732.2" y1="1232.5" x2="1760" y2="1232.5"/>
</svg>
</body></html>
